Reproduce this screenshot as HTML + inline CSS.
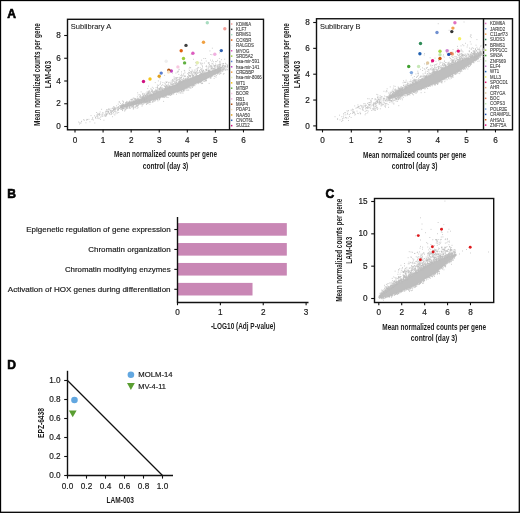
<!DOCTYPE html>
<html><head><meta charset="utf-8"><style>
html,body{margin:0;padding:0;background:#fff;}
svg{display:block;font-family:"Liberation Sans", sans-serif;will-change:transform;}
</style></head><body>
<svg width="520" height="513" viewBox="0 0 520 513">
<rect x="0" y="0" width="520" height="513" fill="#fff"/>
<text x="7.2" y="17.8" font-size="12.1" fill="#000" font-weight="bold" stroke="#000" stroke-width="0.6">A</text>
<rect x="67.5" y="19.3" width="196.0" height="110.50000000000001" fill="none" stroke="#111" stroke-width="1.4"/>
<line x1="229.5" y1="19.3" x2="229.5" y2="129.8" stroke="#111" stroke-width="1.4"/>
<line x1="64.2" y1="126.5" x2="67.5" y2="126.5" stroke="#111" stroke-width="1.1"/>
<text x="60.9" y="129.1" font-size="8.2" text-anchor="end" fill="#1a1a1a" stroke="#1a1a1a" stroke-width="0.18">0</text>
<line x1="64.2" y1="103.75" x2="67.5" y2="103.75" stroke="#111" stroke-width="1.1"/>
<text x="60.9" y="106.35" font-size="8.2" text-anchor="end" fill="#1a1a1a" stroke="#1a1a1a" stroke-width="0.18">2</text>
<line x1="64.2" y1="81.0" x2="67.5" y2="81.0" stroke="#111" stroke-width="1.1"/>
<text x="60.9" y="83.6" font-size="8.2" text-anchor="end" fill="#1a1a1a" stroke="#1a1a1a" stroke-width="0.18">4</text>
<line x1="64.2" y1="58.25" x2="67.5" y2="58.25" stroke="#111" stroke-width="1.1"/>
<text x="60.9" y="60.85" font-size="8.2" text-anchor="end" fill="#1a1a1a" stroke="#1a1a1a" stroke-width="0.18">6</text>
<line x1="64.2" y1="35.5" x2="67.5" y2="35.5" stroke="#111" stroke-width="1.1"/>
<text x="60.9" y="38.1" font-size="8.2" text-anchor="end" fill="#1a1a1a" stroke="#1a1a1a" stroke-width="0.18">8</text>
<line x1="75.0" y1="129.8" x2="75.0" y2="132.4" stroke="#111" stroke-width="1.1"/>
<text x="75.0" y="143.2" font-size="8.2" text-anchor="middle" fill="#1a1a1a" stroke="#1a1a1a" stroke-width="0.18">0</text>
<line x1="103.08" y1="129.8" x2="103.08" y2="132.4" stroke="#111" stroke-width="1.1"/>
<text x="103.08" y="143.2" font-size="8.2" text-anchor="middle" fill="#1a1a1a" stroke="#1a1a1a" stroke-width="0.18">1</text>
<line x1="131.16" y1="129.8" x2="131.16" y2="132.4" stroke="#111" stroke-width="1.1"/>
<text x="131.16" y="143.2" font-size="8.2" text-anchor="middle" fill="#1a1a1a" stroke="#1a1a1a" stroke-width="0.18">2</text>
<line x1="159.24" y1="129.8" x2="159.24" y2="132.4" stroke="#111" stroke-width="1.1"/>
<text x="159.24" y="143.2" font-size="8.2" text-anchor="middle" fill="#1a1a1a" stroke="#1a1a1a" stroke-width="0.18">3</text>
<line x1="187.32" y1="129.8" x2="187.32" y2="132.4" stroke="#111" stroke-width="1.1"/>
<text x="187.32" y="143.2" font-size="8.2" text-anchor="middle" fill="#1a1a1a" stroke="#1a1a1a" stroke-width="0.18">4</text>
<line x1="215.39999999999998" y1="129.8" x2="215.39999999999998" y2="132.4" stroke="#111" stroke-width="1.1"/>
<text x="215.4" y="143.2" font-size="8.2" text-anchor="middle" fill="#1a1a1a" stroke="#1a1a1a" stroke-width="0.18">5</text>
<line x1="243.48" y1="129.8" x2="243.48" y2="132.4" stroke="#111" stroke-width="1.1"/>
<text x="243.48" y="143.2" font-size="8.2" text-anchor="middle" fill="#1a1a1a" stroke="#1a1a1a" stroke-width="0.18">6</text>
<text x="70.8" y="29.2" font-size="7.9" fill="#1a1a1a" textLength="40.5" lengthAdjust="spacingAndGlyphs" stroke="#1a1a1a" stroke-width="0.08">Sublibrary A</text>
<text x="39.6" y="74.5" font-size="9.8" text-anchor="middle" fill="#1a1a1a" font-weight="bold" textLength="102.8" lengthAdjust="spacingAndGlyphs" transform="rotate(-90 39.6 74.5)">Mean normalized counts per gene</text>
<text x="50.7" y="74.5" font-size="9.8" text-anchor="middle" fill="#1a1a1a" font-weight="bold" textLength="27.3" lengthAdjust="spacingAndGlyphs" transform="rotate(-90 50.7 74.5)">LAM-003</text>
<text x="165.5" y="157.3" font-size="9.8" text-anchor="middle" fill="#1a1a1a" font-weight="bold" textLength="103" lengthAdjust="spacingAndGlyphs">Mean normalized counts per gene</text>
<text x="165.5" y="168.8" font-size="9.8" text-anchor="middle" fill="#1a1a1a" font-weight="bold" textLength="45.5" lengthAdjust="spacingAndGlyphs">control (day 3)</text>
<rect x="230.9" y="23.25" width="1.5" height="1.5" fill="#f2a09a"/>
<text x="236.1" y="25.75" font-size="4.9" fill="#444" textLength="14.99" lengthAdjust="spacingAndGlyphs" stroke="#444" stroke-width="0.12">KDM6A</text>
<rect x="230.9" y="28.60" width="1.5" height="1.5" fill="#404040"/>
<text x="236.1" y="31.1" font-size="4.9" fill="#444" textLength="10.4" lengthAdjust="spacingAndGlyphs" stroke="#444" stroke-width="0.12">KLF7</text>
<rect x="230.9" y="33.95" width="1.5" height="1.5" fill="#a8dcc0"/>
<text x="236.1" y="36.45" font-size="4.9" fill="#444" textLength="14.99" lengthAdjust="spacingAndGlyphs" stroke="#444" stroke-width="0.12">BRMS1</text>
<rect x="230.9" y="39.30" width="1.5" height="1.5" fill="#e06010"/>
<text x="236.1" y="41.8" font-size="4.9" fill="#444" textLength="15.23" lengthAdjust="spacingAndGlyphs" stroke="#444" stroke-width="0.12">CCKBR</text>
<rect x="230.9" y="44.65" width="1.5" height="1.5" fill="#eeeeee"/>
<text x="236.1" y="47.15" font-size="4.9" fill="#444" textLength="17.89" lengthAdjust="spacingAndGlyphs" stroke="#444" stroke-width="0.12">RALGDS</text>
<rect x="230.9" y="50.00" width="1.5" height="1.5" fill="#dd5cbf"/>
<text x="236.1" y="52.5" font-size="4.9" fill="#444" textLength="13.29" lengthAdjust="spacingAndGlyphs" stroke="#444" stroke-width="0.12">MYOG</text>
<rect x="230.9" y="55.35" width="1.5" height="1.5" fill="#9ccc3c"/>
<text x="236.1" y="57.85" font-size="4.9" fill="#444" textLength="16.92" lengthAdjust="spacingAndGlyphs" stroke="#444" stroke-width="0.12">SRD5A2</text>
<rect x="230.9" y="60.70" width="1.5" height="1.5" fill="#5a7fd0"/>
<text x="236.1" y="63.2" font-size="4.9" fill="#444" textLength="23.21" lengthAdjust="spacingAndGlyphs" stroke="#444" stroke-width="0.12">hsa-mir-591</text>
<rect x="230.9" y="66.05" width="1.5" height="1.5" fill="#c040c0"/>
<text x="236.1" y="68.55" font-size="4.9" fill="#444" textLength="23.21" lengthAdjust="spacingAndGlyphs" stroke="#444" stroke-width="0.12">hsa-mir-141</text>
<rect x="230.9" y="71.40" width="1.5" height="1.5" fill="#f0a040"/>
<text x="236.1" y="73.9" font-size="4.9" fill="#444" textLength="17.89" lengthAdjust="spacingAndGlyphs" stroke="#444" stroke-width="0.12">CREBBP</text>
<rect x="230.9" y="76.75" width="1.5" height="1.5" fill="#e4eeb0"/>
<text x="236.1" y="79.25" font-size="4.9" fill="#444" textLength="25.62" lengthAdjust="spacingAndGlyphs" stroke="#444" stroke-width="0.12">hsa-mir-8066</text>
<rect x="230.9" y="82.10" width="1.5" height="1.5" fill="#f5c518"/>
<text x="236.1" y="84.6" font-size="4.9" fill="#444" textLength="9.18" lengthAdjust="spacingAndGlyphs" stroke="#444" stroke-width="0.12">WT1</text>
<rect x="230.9" y="87.45" width="1.5" height="1.5" fill="#60b040"/>
<text x="236.1" y="89.95" font-size="4.9" fill="#444" textLength="12.08" lengthAdjust="spacingAndGlyphs" stroke="#444" stroke-width="0.12">MTBP</text>
<rect x="230.9" y="92.80" width="1.5" height="1.5" fill="#f8c8e0"/>
<text x="236.1" y="95.3" font-size="4.9" fill="#444" textLength="12.57" lengthAdjust="spacingAndGlyphs" stroke="#444" stroke-width="0.12">BCOR</text>
<rect x="230.9" y="98.15" width="1.5" height="1.5" fill="#f0b0e0"/>
<text x="236.1" y="100.65" font-size="4.9" fill="#444" textLength="8.46" lengthAdjust="spacingAndGlyphs" stroke="#444" stroke-width="0.12">RB1</text>
<rect x="230.9" y="103.50" width="1.5" height="1.5" fill="#b05010"/>
<text x="236.1" y="106.0" font-size="4.9" fill="#444" textLength="11.85" lengthAdjust="spacingAndGlyphs" stroke="#444" stroke-width="0.12">MAP4</text>
<rect x="230.9" y="108.85" width="1.5" height="1.5" fill="#f8e0c0"/>
<text x="236.1" y="111.35" font-size="4.9" fill="#444" textLength="14.27" lengthAdjust="spacingAndGlyphs" stroke="#444" stroke-width="0.12">PDAP1</text>
<rect x="230.9" y="114.20" width="1.5" height="1.5" fill="#e0a020"/>
<text x="236.1" y="116.7" font-size="4.9" fill="#444" textLength="13.78" lengthAdjust="spacingAndGlyphs" stroke="#444" stroke-width="0.12">NAA50</text>
<rect x="230.9" y="119.55" width="1.5" height="1.5" fill="#2f60b0"/>
<text x="236.1" y="122.05" font-size="4.9" fill="#444" textLength="17.16" lengthAdjust="spacingAndGlyphs" stroke="#444" stroke-width="0.12">CNOT6L</text>
<rect x="230.9" y="124.90" width="1.5" height="1.5" fill="#d01080"/>
<text x="236.1" y="127.4" font-size="4.9" fill="#444" textLength="13.54" lengthAdjust="spacingAndGlyphs" stroke="#444" stroke-width="0.12">SUZ12</text>
<polygon points="120,107.3 131,103.6 140,100 154.4,93.3 168.8,87.3 183.3,81 190,78 205.4,72.5 216.9,69.3 221.5,68.6 221.5,70.5 216.9,73.5 205.4,79.8 190,86.5 183.3,90 168.8,95 154.4,100 140,103.8 131,105.8 120,107.8" fill="#bebebe"/>
<path d="M133.0 103.0h0.85M170.7 82.6h0.85M181.1 79.1h0.85M122.9 106.4h0.85M135.0 101.6h0.85M214.2 65.8h0.85M127.1 105.0h0.85M133.2 102.9h0.85M216.3 61.6h0.85M183.1 80.3h0.85M157.5 91.6h0.85M171.9 79.9h0.85M187.3 77.3h0.85M147.9 96.1h0.85M134.0 102.3h0.85M200.0 69.6h0.85M188.0 74.1h0.85M172.0 73.1h0.85M202.9 70.8h0.85M175.7 78.9h0.85M219.6 63.2h0.85M140.8 99.3h0.85M176.2 77.6h0.85M169.1 87.5h0.85M155.9 91.5h0.85M180.0 77.9h0.85M143.9 98.0h0.85M201.4 69.8h0.85M208.0 67.0h0.85M133.1 102.1h0.85M167.4 85.3h0.85M148.1 95.9h0.85M128.4 102.3h0.85M210.9 68.8h0.85M163.6 88.8h0.85M135.0 98.9h0.85M188.3 78.0h0.85M140.5 99.0h0.85M211.5 54.7h0.85M142.0 96.9h0.85M123.4 104.3h0.85M140.4 100.0h0.85M155.1 89.8h0.85M167.6 85.0h0.85M212.0 68.0h0.85M190.8 54.4h0.85M154.4 92.3h0.85M121.7 106.9h0.85M136.2 101.7h0.85M221.1 59.7h0.85M166.7 81.9h0.85M190.1 76.0h0.85M125.5 105.0h0.85M123.5 106.2h0.85M205.9 72.1h0.85M179.7 82.6h0.85M151.3 90.5h0.85M152.2 94.4h0.85M129.1 103.6h0.85M137.5 101.0h0.85M122.5 106.7h0.85M205.2 58.5h0.85M167.3 87.8h0.85M132.9 102.9h0.85M195.0 73.4h0.85M139.9 100.3h0.85M126.3 105.1h0.85M180.7 81.3h0.85M210.9 68.1h0.85M122.7 105.9h0.85M201.7 65.3h0.85M139.3 99.4h0.85M129.4 102.9h0.85M121.8 106.4h0.85M149.7 92.6h0.85M193.8 74.2h0.85M170.1 83.2h0.85M206.6 68.2h0.85M142.0 97.4h0.85M152.0 90.3h0.85M146.2 94.0h0.85M219.3 52.8h0.85M215.5 69.5h0.85M154.6 91.4h0.85M164.3 86.7h0.85M151.9 91.5h0.85M195.8 68.9h0.85M124.1 106.1h0.85M126.8 103.2h0.85M161.0 85.7h0.85M144.9 96.5h0.85M205.8 61.0h0.85M195.3 62.7h0.85M175.4 81.1h0.85M187.1 76.5h0.85M190.3 67.8h0.85M199.3 71.3h0.85M214.1 66.1h0.85M135.2 100.4h0.85M183.6 79.4h0.85M134.6 101.5h0.85M165.0 87.9h0.85M199.8 72.0h0.85M210.8 68.6h0.85M197.1 70.1h0.85M123.6 105.9h0.85M156.5 91.1h0.85M136.6 101.5h0.85M221.4 67.6h0.85M134.6 102.4h0.85M144.8 97.7h0.85M156.3 92.0h0.85M126.2 105.2h0.85M208.3 71.0h0.85M184.6 76.3h0.85M136.2 101.2h0.85M170.6 85.0h0.85M128.0 104.2h0.85M182.0 81.5h0.85M143.5 98.4h0.85M123.9 105.8h0.85M131.7 102.6h0.85M176.4 80.9h0.85M184.7 76.6h0.85M153.0 88.3h0.85M185.3 79.6h0.85M155.7 92.9h0.85M133.3 98.1h0.85M152.0 90.1h0.85M160.1 91.0h0.85M212.6 68.8h0.85M131.7 103.4h0.85M128.7 102.7h0.85M177.0 77.7h0.85M217.8 68.0h0.85M212.1 60.2h0.85M191.1 71.8h0.85M126.8 104.0h0.85M201.8 71.1h0.85M189.4 76.1h0.85M134.6 102.2h0.85M167.2 87.0h0.85M125.0 105.2h0.85M201.4 70.9h0.85M192.9 75.9h0.85M201.7 72.0h0.85M197.2 75.5h0.85M147.1 95.6h0.85M200.2 63.8h0.85M145.3 95.4h0.85M134.0 101.4h0.85M159.6 89.8h0.85M170.5 84.3h0.85M149.0 95.5h0.85M181.5 76.3h0.85M181.2 81.6h0.85M144.3 94.0h0.85M183.2 78.7h0.85M156.3 90.3h0.85M194.6 76.3h0.85M149.5 94.5h0.85M201.1 73.4h0.85M162.1 89.4h0.85M176.2 80.0h0.85M188.3 76.1h0.85M172.6 81.0h0.85M146.1 97.4h0.85M219.4 61.8h0.85M129.7 103.1h0.85M153.0 93.4h0.85M175.7 81.7h0.85M122.9 105.9h0.85M135.7 100.3h0.85M201.1 73.6h0.85M199.6 72.3h0.85M184.7 78.4h0.85M211.5 71.0h0.85M196.7 72.2h0.85M150.3 88.9h0.85M185.5 79.1h0.85M154.5 91.1h0.85M196.1 71.8h0.85M159.1 88.8h0.85M135.6 100.1h0.85M209.0 66.9h0.85M190.1 76.1h0.85M195.6 73.9h0.85M176.8 72.1h0.85M199.5 72.3h0.85M165.5 88.8h0.85M177.4 79.7h0.85M126.4 105.0h0.85M176.3 82.8h0.85M202.7 69.9h0.85M191.6 70.0h0.85M201.5 73.9h0.85M170.4 86.6h0.85M209.5 50.9h0.85M131.0 102.3h0.85M208.9 63.0h0.85M157.7 90.0h0.85M129.2 104.0h0.85M182.9 78.2h0.85M166.2 85.7h0.85M163.5 85.3h0.85M206.5 70.5h0.85M134.0 102.3h0.85M182.6 75.9h0.85M162.0 84.8h0.85M173.6 76.9h0.85M170.7 81.1h0.85M133.6 100.5h0.85M172.0 82.2h0.85M207.5 71.6h0.85M137.4 99.5h0.85M121.2 107.1h0.85M126.9 102.8h0.85M166.7 88.3h0.85M218.9 58.5h0.85M124.5 105.9h0.85M220.6 67.5h0.85M174.4 79.7h0.85M132.2 103.2h0.85M162.5 88.7h0.85M141.0 99.6h0.85M192.5 76.0h0.85M175.0 83.1h0.85M149.2 95.9h0.85M145.9 96.8h0.85M208.0 71.9h0.85M197.8 73.0h0.85M164.3 83.1h0.85M161.2 88.7h0.85M194.9 75.1h0.85M218.5 68.8h0.85M128.1 104.7h0.85M136.1 101.4h0.85M156.8 87.4h0.85M171.5 85.9h0.85M127.2 104.1h0.85M125.4 105.1h0.85M142.3 98.4h0.85M159.2 89.8h0.85M195.0 72.2h0.85M181.9 81.7h0.85M123.0 106.3h0.85M124.6 106.0h0.85M165.9 87.9h0.85M208.8 70.8h0.85M212.9 64.9h0.85M157.1 86.3h0.85M210.1 60.1h0.85M214.3 68.5h0.85M161.3 89.6h0.85M195.7 62.2h0.85M157.1 92.0h0.85M135.6 99.5h0.85M178.4 74.4h0.85M128.8 103.3h0.85M187.3 73.6h0.85M202.1 66.4h0.85M212.9 70.2h0.85M165.5 84.9h0.85M131.9 101.7h0.85M211.6 63.6h0.85M208.3 71.2h0.85M218.2 68.5h0.85M180.3 78.0h0.85M188.4 75.8h0.85M157.9 80.9h0.85M138.6 100.3h0.85M149.6 92.4h0.85M193.1 59.3h0.85M153.0 94.2h0.85M190.2 76.0h0.85M171.0 84.0h0.85M165.6 86.1h0.85M218.2 68.3h0.85M136.9 96.8h0.85M169.4 86.8h0.85M136.2 99.3h0.85M215.2 61.6h0.85M169.6 86.1h0.85M153.7 92.4h0.85M137.1 101.2h0.85M180.3 79.9h0.85M160.5 87.5h0.85M132.9 102.9h0.85M123.3 106.4h0.85M159.7 88.4h0.85M179.2 81.2h0.85M172.7 84.5h0.85M211.4 67.7h0.85M212.5 70.2h0.85M215.0 64.0h0.85M201.2 60.2h0.85M168.5 86.6h0.85M173.2 80.9h0.85M160.3 81.9h0.85M160.6 90.8h0.85M124.2 105.8h0.85M201.1 74.3h0.85M145.0 95.9h0.85M123.0 105.2h0.85M167.3 87.2h0.85M192.9 75.8h0.85M164.3 88.6h0.85M157.0 87.6h0.85M186.8 78.5h0.85M136.5 100.9h0.85M121.2 106.7h0.85M180.1 80.8h0.85M173.8 81.3h0.85M207.9 70.1h0.85M162.2 87.9h0.85M199.8 73.4h0.85M121.8 105.6h0.85M122.8 106.1h0.85M180.8 77.5h0.85M143.0 97.8h0.85M126.8 103.8h0.85M133.0 101.6h0.85M158.0 92.1h0.85M154.2 91.3h0.85M177.2 83.8h0.85M210.1 66.1h0.85M157.1 88.8h0.85M138.7 99.5h0.85M178.7 81.8h0.85M120.2 107.2h0.85M159.1 88.7h0.85M152.2 92.5h0.85M159.3 91.3h0.85M125.2 105.6h0.85M176.3 83.1h0.85M183.4 73.7h0.85M196.1 74.8h0.85M217.2 67.8h0.85M156.0 92.7h0.85M186.6 78.1h0.85M164.9 88.8h0.85M141.8 98.4h0.85M210.3 54.5h0.85M195.7 73.9h0.85M215.7 69.6h0.85M203.4 58.5h0.85M213.1 61.8h0.85M133.0 102.8h0.85M121.6 106.0h0.85M140.2 99.5h0.85M161.8 90.0h0.85M189.8 77.1h0.85M164.5 89.4h0.85M172.1 79.8h0.85M197.2 68.6h0.85M127.2 104.7h0.85M188.8 75.4h0.85M124.9 105.6h0.85M145.2 97.6h0.85M193.3 72.7h0.85M189.3 73.0h0.85M161.1 88.1h0.85M149.9 95.2h0.85M204.1 63.0h0.85M147.9 93.0h0.85M123.2 106.2h0.85M145.1 95.6h0.85M122.2 105.4h0.85M202.3 63.3h0.85M132.4 103.0h0.85M218.9 66.6h0.85M141.6 99.3h0.85M151.1 91.7h0.85M179.4 81.3h0.85M151.3 94.7h0.85M158.5 91.3h0.85M130.6 102.0h0.85M159.5 91.4h0.85M122.6 105.3h0.85M142.7 98.0h0.85M212.3 70.0h0.85M148.5 93.0h0.85M147.5 96.8h0.85M188.9 70.6h0.85M209.6 69.4h0.85M150.0 95.3h0.85M158.2 85.4h0.85M192.5 74.0h0.85M200.4 62.8h0.85M182.3 80.2h0.85M138.2 100.3h0.85M138.3 100.8h0.85M196.9 70.8h0.85M191.7 74.8h0.85M211.0 68.9h0.85M199.1 70.5h0.85M162.8 88.7h0.85M133.5 102.4h0.85M210.4 71.2h0.85M190.6 72.0h0.85M178.5 82.4h0.85M189.2 75.5h0.85M159.1 90.9h0.85M154.8 82.6h0.85M178.4 79.5h0.85M169.0 87.1h0.85M192.0 74.1h0.85M215.0 65.4h0.85M206.0 70.0h0.85M159.3 89.5h0.85M157.8 88.4h0.85M214.1 66.0h0.85M160.1 83.2h0.85M201.2 74.0h0.85M129.4 104.2h0.85M165.8 87.3h0.85M172.4 85.6h0.85M202.1 72.4h0.85M209.1 71.6h0.85M135.5 101.6h0.85M182.6 80.5h0.85M183.9 70.4h0.85M135.4 101.8h0.85M204.6 71.3h0.85M176.2 82.6h0.85M217.6 66.3h0.85M138.9 99.1h0.85M173.3 79.1h0.85M152.8 93.5h0.85M185.2 79.5h0.85M181.7 79.5h0.85M172.0 84.1h0.85M153.0 92.9h0.85M171.2 86.4h0.85M157.8 92.0h0.85M210.4 65.7h0.85M166.8 86.6h0.85M168.2 87.3h0.85M146.2 94.8h0.85M145.8 94.6h0.85M216.8 65.6h0.85M151.9 87.3h0.85M208.1 68.2h0.85M180.4 75.6h0.85M219.5 62.9h0.85M136.7 101.6h0.85M215.6 67.1h0.85M198.4 62.6h0.85M177.7 83.3h0.85M191.9 77.2h0.85M193.3 75.8h0.85M165.5 86.6h0.85M184.4 80.2h0.85M143.2 95.8h0.85M122.2 106.9h0.85M188.7 68.9h0.85M168.2 84.1h0.85M211.9 48.2h0.85M146.8 96.3h0.85M203.0 71.0h0.85M220.1 67.3h0.85M211.2 66.5h0.85M217.9 67.1h0.85M136.1 101.1h0.85M136.8 98.4h0.85M143.2 98.3h0.85M156.7 90.0h0.85M131.7 103.4h0.85M135.3 101.2h0.85M121.9 105.1h0.85M214.7 68.1h0.85M156.6 90.0h0.85M183.5 80.5h0.85M166.1 82.5h0.85M195.4 70.1h0.85M201.8 73.4h0.85M158.9 89.1h0.85M174.3 82.3h0.85M129.9 103.3h0.85M149.0 96.0h0.85M142.6 99.0h0.85M151.3 94.8h0.85M152.9 93.7h0.85M178.4 82.1h0.85M153.8 93.6h0.85M153.2 91.4h0.85M204.4 72.1h0.85M121.2 107.2h0.85M120.5 107.3h0.85M125.8 104.9h0.85M207.9 63.6h0.85M184.3 71.0h0.85M193.9 70.1h0.85M217.2 60.3h0.85M142.1 96.8h0.85M213.4 69.6h0.85M144.6 97.5h0.85M172.7 85.2h0.85M189.1 72.6h0.85M200.9 70.3h0.85M145.2 95.5h0.85M168.4 82.7h0.85M124.6 105.8h0.85M149.2 95.2h0.85M219.6 68.5h0.85M211.9 70.8h0.85M179.1 81.0h0.85M199.8 67.8h0.85M211.6 66.9h0.85M153.7 93.9h0.85M219.5 65.5h0.85M165.5 87.5h0.85M136.1 100.4h0.85M173.8 83.6h0.85M180.3 81.5h0.85M190.3 71.7h0.85M188.1 77.5h0.85M124.2 105.5h0.85M184.9 80.3h0.85M213.5 68.3h0.85M188.0 72.4h0.85M219.0 67.7h0.85M171.9 81.0h0.85M202.2 71.4h0.85M134.2 101.9h0.85M210.9 65.3h0.85M164.3 89.4h0.85M209.0 64.5h0.85M152.6 94.0h0.85M183.4 80.5h0.85M205.9 70.0h0.85M192.2 71.1h0.85M182.9 74.9h0.85M218.5 64.7h0.85M128.9 102.3h0.85M130.4 103.4h0.85M176.0 78.4h0.85M216.9 66.7h0.85M189.7 67.5h0.85M151.4 91.6h0.85M130.9 103.8h0.85M165.5 88.2h0.85M168.7 87.2h0.85M167.5 88.1h0.85M182.9 81.0h0.85M147.7 94.1h0.85M209.4 71.5h0.85M149.3 90.7h0.85M130.9 101.9h0.85M155.4 92.1h0.85M215.0 65.8h0.85M136.2 101.8h0.85M148.2 92.2h0.85M214.0 69.1h0.85M155.3 92.0h0.85M205.6 66.4h0.85M124.6 105.4h0.85M210.2 67.0h0.85M144.1 97.0h0.85M138.3 100.0h0.85M195.3 65.4h0.85M220.4 68.0h0.85M217.4 67.1h0.85M196.4 75.6h0.85M212.8 66.0h0.85M220.2 69.1h0.85M176.1 84.3h0.85M134.7 99.8h0.85M206.2 69.6h0.85M160.2 87.0h0.85M151.7 91.8h0.85M170.8 84.3h0.85M123.5 106.0h0.85M121.9 106.5h0.85M146.8 92.7h0.85M180.5 81.1h0.85M196.1 74.7h0.85M217.2 68.4h0.85M203.0 70.7h0.85M215.5 66.1h0.85M184.6 75.8h0.85M194.5 73.2h0.85M179.6 82.6h0.85M128.3 103.2h0.85M126.3 101.4h0.85M197.2 70.1h0.85M140.5 98.1h0.85M200.2 73.1h0.85M167.1 86.9h0.85M120.7 107.3h0.85M177.0 83.6h0.85M165.0 86.6h0.85M127.5 104.5h0.85M146.5 97.3h0.85M151.1 94.8h0.85M155.1 91.0h0.85M191.7 75.2h0.85M137.0 101.0h0.85M165.0 84.0h0.85M181.6 81.1h0.85M216.1 69.5h0.85M131.7 103.4h0.85M128.1 104.5h0.85M139.5 100.2h0.85M142.4 97.2h0.85M136.5 101.0h0.85M127.7 103.7h0.85M141.3 99.0h0.85M142.7 98.9h0.85M168.7 86.2h0.85M185.7 80.2h0.85M156.9 92.1h0.85M137.1 99.7h0.85M129.6 103.2h0.85M146.7 96.4h0.85M137.3 101.2h0.85M168.8 86.3h0.85M208.4 71.1h0.85M192.7 72.1h0.85M140.6 100.0h0.85M123.6 105.4h0.85M126.9 105.2h0.85M164.2 75.4h0.85M156.9 85.0h0.85M189.3 67.3h0.85M128.5 103.7h0.85M145.8 95.5h0.85M189.6 75.5h0.85M177.7 71.0h0.85M172.4 83.9h0.85M211.5 61.7h0.85M131.5 99.7h0.85M139.8 97.9h0.85M177.4 83.3h0.85M177.4 72.0h0.85M219.5 61.3h0.85M219.2 66.8h0.85M179.6 78.6h0.85M197.0 73.6h0.85M190.8 73.9h0.85M133.5 101.4h0.85M181.1 71.9h0.85M151.0 89.2h0.85M156.4 92.2h0.85M135.9 101.1h0.85M120.8 105.9h0.85M206.6 69.9h0.85M192.8 76.2h0.85M196.3 65.0h0.85M149.2 94.6h0.85M162.4 89.8h0.85M137.9 100.6h0.85M181.1 77.6h0.85M205.2 69.9h0.85M199.1 74.6h0.85M214.8 69.5h0.85M146.4 97.3h0.85M191.2 72.6h0.85M132.9 101.7h0.85M174.4 78.3h0.85M131.2 103.5h0.85M174.8 77.6h0.85M175.0 83.8h0.85M155.2 93.1h0.85M155.5 90.5h0.85M192.2 76.0h0.85M168.8 85.6h0.85M161.4 89.9h0.85M131.4 102.8h0.85M148.7 96.2h0.85M206.0 65.9h0.85M218.7 67.2h0.85M157.9 91.5h0.85M208.4 71.1h0.85M208.7 65.7h0.85M142.1 93.8h0.85M147.8 94.0h0.85M190.6 73.6h0.85M151.1 94.1h0.85M217.0 69.0h0.85M157.1 92.0h0.85M194.1 72.7h0.85M191.8 75.9h0.85M141.7 98.3h0.85M207.9 62.5h0.85M153.4 92.7h0.85M131.2 99.3h0.85M125.1 105.5h0.85M165.9 82.5h0.85M184.2 76.2h0.85M147.5 92.8h0.85M205.5 69.6h0.85M147.2 95.4h0.85M206.0 70.1h0.85M123.4 105.0h0.85M146.7 91.4h0.85M136.2 101.3h0.85M165.4 87.2h0.85M155.6 87.7h0.85M160.1 87.8h0.85M206.4 66.7h0.85M178.8 69.3h0.85M181.5 75.4h0.85M159.6 88.6h0.85M202.0 68.0h0.85M170.9 86.5h0.85M195.7 72.9h0.85M212.8 68.5h0.85M182.1 81.1h0.85M164.2 86.1h0.85M146.8 94.0h0.85M212.6 68.8h0.85M197.6 72.4h0.85M201.2 68.8h0.85M142.5 98.0h0.85M164.3 88.7h0.85M209.7 71.4h0.85M145.0 95.8h0.85M202.6 73.6h0.85M174.7 82.4h0.85M142.2 94.8h0.85M158.1 90.1h0.85M127.7 103.5h0.85M188.3 74.2h0.85M193.8 71.7h0.85M122.9 106.6h0.85M150.6 94.9h0.85M198.0 67.7h0.85M140.3 99.7h0.85M174.5 83.8h0.85M201.8 72.0h0.85M177.9 82.0h0.85M132.4 102.3h0.85M212.3 70.9h0.85M195.8 75.7h0.85M177.3 80.1h0.85M153.8 93.4h0.85M179.1 79.0h0.85M159.7 87.7h0.85M132.0 103.1h0.85M132.4 102.3h0.85M124.6 105.5h0.85M137.3 101.1h0.85M144.9 96.4h0.85M184.5 72.8h0.85M178.9 79.6h0.85M179.9 80.8h0.85M203.4 72.9h0.85M129.7 104.3h0.85M159.5 78.7h0.85M128.0 104.4h0.85M162.5 82.6h0.85M128.0 103.9h0.85M126.7 105.3h0.85M130.6 102.9h0.85M159.6 84.4h0.85M197.5 67.4h0.85M148.6 91.5h0.85M195.3 72.4h0.85M143.7 94.0h0.85M149.2 95.9h0.85M167.8 87.3h0.85M127.6 103.9h0.85M165.6 81.8h0.85M179.2 77.3h0.85M203.7 72.4h0.85M125.7 105.4h0.85M201.2 64.0h0.85M177.8 71.6h0.85M178.7 80.9h0.85M125.2 104.9h0.85M209.3 70.7h0.85M148.1 86.1h0.85M175.5 73.1h0.85M174.7 79.0h0.85M212.4 63.7h0.85M181.0 74.2h0.85M220.6 67.6h0.85M143.6 98.6h0.85M187.2 79.2h0.85M178.5 69.8h0.85M172.1 84.7h0.85M183.7 80.8h0.85M175.9 80.2h0.85M154.2 93.7h0.85M185.1 79.0h0.85M128.5 103.5h0.85M168.6 82.3h0.85M166.0 86.3h0.85M141.6 99.4h0.85M177.7 77.8h0.85M188.0 78.2h0.85M132.7 102.1h0.85M150.1 94.0h0.85M126.3 104.2h0.85M180.6 82.1h0.85M128.3 104.6h0.85M143.3 96.5h0.85M165.5 89.0h0.85M165.9 85.4h0.85M206.1 80.6h0.85M141.4 103.4h0.85M180.3 93.2h0.85M127.4 106.3h0.85M142.8 104.2h0.85M124.6 106.8h0.85M183.8 90.8h0.85M210.9 76.6h0.85M181.0 91.2h0.85M181.2 91.3h0.85M211.7 76.2h0.85M153.5 101.0h0.85M176.5 92.3h0.85M202.2 83.3h0.85M139.7 103.9h0.85M191.4 86.2h0.85M127.8 106.9h0.85M157.5 100.9h0.85M138.8 103.9h0.85M163.9 97.2h0.85M140.7 103.8h0.85M126.2 106.5h0.85M165.1 96.5h0.85M159.6 98.4h0.85M194.5 85.7h0.85M121.4 108.7h0.85M184.5 89.3h0.85M124.5 110.3h0.85M169.3 94.6h0.85M122.1 107.7h0.85M212.5 75.9h0.85M169.5 95.0h0.85M168.4 95.5h0.85M127.2 106.9h0.85M199.9 82.2h0.85M147.0 101.7h0.85M167.7 97.5h0.85M193.3 85.4h0.85M200.3 82.1h0.85M159.2 99.5h0.85M126.2 106.9h0.85M220.1 72.3h0.85M145.9 102.1h0.85M124.3 106.8h0.85M182.9 90.4h0.85M208.7 83.4h0.85M128.9 107.8h0.85M124.6 109.3h0.85M188.7 87.3h0.85M178.1 91.5h0.85M146.3 102.1h0.85M146.9 102.1h0.85M197.9 83.6h0.85M122.1 107.2h0.85M144.4 102.3h0.85M156.8 99.1h0.85M198.6 82.8h0.85M151.9 101.8h0.85M125.5 106.5h0.85M195.5 84.4h0.85M189.9 87.8h0.85M132.9 108.7h0.85M193.9 84.6h0.85M183.3 89.9h0.85M157.3 99.8h0.85M178.7 92.1h0.85M171.0 94.3h0.85M200.5 81.6h0.85M216.6 73.6h0.85M154.6 99.7h0.85M129.2 106.2h0.85M157.0 99.5h0.85M180.8 90.9h0.85M146.0 104.5h0.85M135.7 105.6h0.85M141.5 103.4h0.85M206.1 80.7h0.85M192.5 86.1h0.85M132.7 105.9h0.85M150.4 102.4h0.85M147.5 101.7h0.85M131.4 106.9h0.85M205.2 80.6h0.85M149.3 101.6h0.85M177.3 92.4h0.85M158.8 99.9h0.85M127.1 106.6h0.85M123.7 108.3h0.85M190.5 88.3h0.85M183.7 89.7h0.85M170.0 95.3h0.85M138.0 105.3h0.85M154.6 100.0h0.85M171.5 94.6h0.85M141.9 104.9h0.85M178.5 93.0h0.85M205.2 80.9h0.85M138.0 104.1h0.85M214.5 76.4h0.85M171.5 94.1h0.85M219.2 72.4h0.85M218.2 72.7h0.85M126.5 107.2h0.85M189.2 87.9h0.85M144.7 102.5h0.85M183.0 90.5h0.85M210.3 78.4h0.85M166.5 97.5h0.85M186.3 88.3h0.85M187.8 87.7h0.85M139.1 104.0h0.85M163.2 96.7h0.85M149.5 102.1h0.85M169.0 94.7h0.85M197.4 83.3h0.85M134.7 107.8h0.85M176.1 94.2h0.85M171.2 94.0h0.85M159.1 98.4h0.85M205.4 79.8h0.85M155.6 99.3h0.85M201.2 83.6h0.85M127.2 108.4h0.85M164.6 97.0h0.85M131.1 105.7h0.85M205.9 79.2h0.85M187.4 90.2h0.85M141.6 104.5h0.85M157.8 98.9h0.85M132.9 109.0h0.85M209.8 77.5h0.85M210.6 77.8h0.85M210.6 76.8h0.85M181.5 92.8h0.85M146.8 103.3h0.85M166.3 96.6h0.85M187.5 87.8h0.85M163.2 101.4h0.85M125.9 106.9h0.85M173.3 94.0h0.85M128.9 106.3h0.85M143.9 103.2h0.85M202.9 81.3h0.85M182.3 91.4h0.85M200.9 81.6h0.85M188.9 86.8h0.85M186.8 88.7h0.85M145.1 102.3h0.85M191.9 87.4h0.85M132.8 107.1h0.85M121.8 107.9h0.85M154.4 101.2h0.85M135.9 105.3h0.85M190.5 87.1h0.85M149.0 101.3h0.85M123.5 107.0h0.85M198.7 82.6h0.85M214.9 74.8h0.85M192.2 87.1h0.85M217.0 73.9h0.85M199.5 82.1h0.85M214.3 76.1h0.85M188.3 90.0h0.85M199.7 82.1h0.85M200.7 83.1h0.85M131.8 105.4h0.85M152.5 101.9h0.85M182.6 93.1h0.85M152.6 101.2h0.85M208.6 78.0h0.85M125.5 108.8h0.85M133.0 105.6h0.85M153.3 100.5h0.85M154.8 100.6h0.85M204.5 80.8h0.85M121.5 107.9h0.85M204.0 81.4h0.85M218.7 73.5h0.85M125.0 107.4h0.85M216.6 73.5h0.85M185.6 88.9h0.85M180.0 83.3h0.85M192.8 85.2h0.85M151.4 94.0h0.85M143.8 99.9h0.85M149.3 95.5h0.85M200.4 74.4h0.85M218.3 68.5h0.85M152.3 102.0h0.85M186.4 79.2h0.85M179.0 91.1h0.85M209.4 72.2h0.85M121.5 107.8h0.85M183.1 91.1h0.85M208.3 71.8h0.85M217.9 67.8h0.85M162.3 97.4h0.85M168.9 87.1h0.85M205.2 80.1h0.85M214.9 69.9h0.85M144.0 98.6h0.85M210.1 72.0h0.85M132.2 106.8h0.85M125.2 104.1h0.85M123.3 107.0h0.85M127.6 104.7h0.85M129.8 102.6h0.85M143.8 98.0h0.85M149.2 100.1h0.85M218.4 73.1h0.85M201.4 81.7h0.85M130.5 106.1h0.85M139.6 99.8h0.85M190.4 86.1h0.85M181.0 82.1h0.85M165.3 88.0h0.85M163.2 97.2h0.85M195.7 77.1h0.85M169.9 87.7h0.85M193.0 85.9h0.85M121.2 105.5h0.85M130.2 105.6h0.85M138.8 100.3h0.85M180.1 92.1h0.85M179.1 83.1h0.85M208.2 70.4h0.85M210.0 77.2h0.85M202.0 83.3h0.85M153.6 94.8h0.85M126.0 105.8h0.85M209.8 71.0h0.85M214.5 69.6h0.85M122.5 108.9h0.85M120.4 107.5h0.85M138.0 104.5h0.85M156.6 90.6h0.85M191.6 85.6h0.85M166.3 95.1h0.85M187.1 78.9h0.85M202.6 79.7h0.85M137.9 101.2h0.85M151.5 99.7h0.85M218.5 72.4h0.85M174.9 91.6h0.85M170.0 86.3h0.85M175.9 84.9h0.85M175.6 83.5h0.85M193.6 85.5h0.85M208.3 70.2h0.85M183.4 90.3h0.85M184.1 80.1h0.85M178.7 82.8h0.85M144.3 97.0h0.85M197.6 75.5h0.85M140.1 99.9h0.85M146.1 96.6h0.85M154.5 94.3h0.85M173.3 93.7h0.85M203.0 73.0h0.85M156.2 91.2h0.85M181.2 90.3h0.85M164.2 97.0h0.85M165.3 87.6h0.85M218.1 69.0h0.85M185.8 90.2h0.85M121.8 106.4h0.85M207.7 73.5h0.85M170.9 94.2h0.85M217.8 68.7h0.85M132.6 106.1h0.85M217.4 73.0h0.85M186.5 79.2h0.85M183.1 80.7h0.85M170.5 95.2h0.85M218.2 70.4h0.85M204.9 72.9h0.85M173.2 83.5h0.85M158.1 92.5h0.85M159.4 89.4h0.85M168.5 94.3h0.85M138.2 102.2h0.85M143.7 97.7h0.85M187.2 81.3h0.85M198.3 82.3h0.85M212.0 71.6h0.85M136.1 106.2h0.85M151.4 95.9h0.85M138.8 99.7h0.85M183.6 81.1h0.85M150.6 94.6h0.85M152.5 96.2h0.85M126.8 107.2h0.85M198.5 75.9h0.85M214.6 74.4h0.85M133.8 102.6h0.85M169.7 87.2h0.85M199.7 74.8h0.85M208.2 72.2h0.85M155.7 92.1h0.85M126.1 107.4h0.85M197.8 82.4h0.85M192.0 85.7h0.85M160.2 93.4h0.85M219.8 68.1h0.85M192.7 85.0h0.85M177.9 83.2h0.85M179.9 82.0h0.85M128.1 103.7h0.85M217.4 73.1h0.85M220.5 70.6h0.85M136.7 101.4h0.85M198.0 82.0h0.85M178.8 82.2h0.85M160.0 90.0h0.85M179.9 82.3h0.85M132.3 103.5h0.85M155.6 99.7h0.85M153.8 92.2h0.85M189.2 76.2h0.85M173.6 84.9h0.85M122.7 108.4h0.85M149.3 102.2h0.85M159.0 98.7h0.85M156.9 99.5h0.85M199.9 74.5h0.85M204.1 79.6h0.85M216.6 74.0h0.85M215.5 69.0h0.85M169.6 86.4h0.85M176.7 85.7h0.85M122.7 104.7h0.85M100.0 119.4h0.85M125.1 102.6h0.85M117.8 104.2h0.85M141.7 99.1h0.85M122.0 103.8h0.85M149.5 95.9h0.85M122.2 106.8h0.85M98.6 114.7h0.85M140.5 103.0h0.85M130.3 104.8h0.85M121.7 108.3h0.85M143.2 101.1h0.85M106.2 111.6h0.85M125.9 102.6h0.85M136.7 108.3h0.85M146.8 96.0h0.85M122.5 107.3h0.85M141.6 99.4h0.85M104.4 114.9h0.85M118.3 112.5h0.85M106.2 114.3h0.85M121.1 109.5h0.85M137.6 107.6h0.85M128.7 108.3h0.85M149.1 100.6h0.85M130.5 103.3h0.85M105.2 111.3h0.85M111.6 113.6h0.85M145.7 99.1h0.85M90.6 115.6h0.85M119.8 106.0h0.85M140.3 96.9h0.85M139.6 102.2h0.85M140.2 95.2h0.85M102.4 114.3h0.85M137.7 94.9h0.85M143.9 101.0h0.85M135.7 106.6h0.85M118.0 109.4h0.85M122.2 108.7h0.85M118.4 108.3h0.85M107.6 113.7h0.85M110.8 111.3h0.85M141.4 100.0h0.85M140.3 101.4h0.85M136.9 103.2h0.85M128.1 104.3h0.85M124.5 104.6h0.85M99.7 112.0h0.85M145.5 100.0h0.85M117.4 107.4h0.85M125.8 105.1h0.85M137.3 92.8h0.85M137.5 101.7h0.85M141.6 106.1h0.85M112.0 110.9h0.85M95.1 117.1h0.85M102.6 113.1h0.85M129.7 105.6h0.85M123.3 105.1h0.85M111.9 108.4h0.85M148.1 102.8h0.85M138.4 101.8h0.85M143.4 100.4h0.85M127.8 104.2h0.85M120.1 109.2h0.85M149.7 96.1h0.85M87.1 119.6h0.85M86.5 119.4h0.85M131.9 104.3h0.85M147.3 88.6h0.85M111.1 114.3h0.85M80.4 123.3h0.85M105.3 114.1h0.85M139.2 94.8h0.85M111.6 111.0h0.85M139.5 102.1h0.85M83.2 119.7h0.85M132.6 102.3h0.85M134.2 102.3h0.85M145.9 96.2h0.85M147.9 93.7h0.85M143.3 98.8h0.85M148.0 92.0h0.85M127.3 104.7h0.85M102.4 112.6h0.85M106.3 109.5h0.85M96.3 116.3h0.85M143.2 101.9h0.85M119.9 106.9h0.85M105.4 115.5h0.85M145.7 99.0h0.85M115.6 109.0h0.85M96.6 114.8h0.85M137.1 105.6h0.85M133.5 105.2h0.85M114.6 111.7h0.85M95.1 117.7h0.85M107.9 111.5h0.85M117.1 108.3h0.85M139.4 96.6h0.85M98.5 118.0h0.85M123.1 102.4h0.85M118.3 108.8h0.85M113.4 108.2h0.85M125.3 105.3h0.85M144.5 95.4h0.85M143.5 98.8h0.85M123.8 104.3h0.85M149.5 104.2h0.85M115.5 113.7h0.85M131.5 103.6h0.85M147.7 99.5h0.85M142.9 97.7h0.85M125.2 104.9h0.85M114.5 107.9h0.85M130.2 99.8h0.85M104.9 112.8h0.85M134.8 99.1h0.85M99.5 114.2h0.85M137.1 102.4h0.85M97.0 117.1h0.85M136.7 102.0h0.85M144.9 100.1h0.85M148.0 96.0h0.85M139.6 97.1h0.85M121.7 106.1h0.85M143.9 95.0h0.85M138.3 102.5h0.85M144.5 99.5h0.85M134.0 98.4h0.85M128.5 103.0h0.85M137.7 100.0h0.85M138.2 98.3h0.85M117.7 109.5h0.85M133.3 101.6h0.85M142.4 100.8h0.85M134.9 98.8h0.85M149.2 93.7h0.85M144.5 101.6h0.85M130.8 102.6h0.85M106.3 114.5h0.85M133.9 104.3h0.85M108.7 109.1h0.85M134.6 103.0h0.85M126.7 105.2h0.85M136.5 101.5h0.85M105.5 116.3h0.85M131.0 104.6h0.85M102.0 116.3h0.85M122.7 104.1h0.85M126.2 108.5h0.85M148.7 99.5h0.85M134.5 107.1h0.85M137.0 105.0h0.85M118.0 107.1h0.85M138.8 101.1h0.85M121.6 108.0h0.85M147.2 93.5h0.85M116.3 112.0h0.85M132.3 103.0h0.85M132.6 98.3h0.85M129.4 107.3h0.85M121.5 104.7h0.85M108.0 111.9h0.85M148.7 92.9h0.85M92.2 118.9h0.85M113.7 111.2h0.85M145.3 98.0h0.85M136.4 104.2h0.85M92.3 117.7h0.85M121.3 107.4h0.85M131.1 99.9h0.85M149.5 91.6h0.85M139.8 104.1h0.85M88.5 119.3h0.85M106.6 111.5h0.85M135.5 101.2h0.85M97.5 113.4h0.85M135.7 103.5h0.85M94.4 123.0h0.85M81.2 121.3h0.85M104.5 115.0h0.85M134.4 99.4h0.85M136.0 101.7h0.85M143.3 95.6h0.85M118.8 102.4h0.85M128.4 103.8h0.85M143.3 101.1h0.85M125.7 108.8h0.85M124.3 111.1h0.85M138.6 100.7h0.85M136.8 102.1h0.85M147.1 101.3h0.85M123.1 108.6h0.85M148.7 101.9h0.85M108.3 111.9h0.85M135.1 103.4h0.85M101.5 114.2h0.85M144.7 100.3h0.85M126.3 103.2h0.85M121.2 106.0h0.85M114.2 109.1h0.85M128.5 103.3h0.85M109.0 113.3h0.85M141.5 98.3h0.85M132.6 104.6h0.85M109.0 113.9h0.85M96.8 115.6h0.85M118.8 101.5h0.85M103.6 116.0h0.85M121.4 105.0h0.85M148.4 91.0h0.85M132.6 103.3h0.85M136.0 101.8h0.85M128.4 105.3h0.85M125.8 104.6h0.85M135.5 101.2h0.85M96.2 112.5h0.85M106.0 114.8h0.85M149.2 99.6h0.85M143.7 101.0h0.85M113.7 111.1h0.85M119.5 108.3h0.85M140.8 97.1h0.85M147.5 101.4h0.85M117.2 110.6h0.85M143.5 98.9h0.85M133.3 100.2h0.85M115.0 110.0h0.85M98.6 118.6h0.85M137.2 106.2h0.85M138.5 99.8h0.85M128.3 102.6h0.85M132.0 102.5h0.85M122.0 110.3h0.85M108.9 113.5h0.85M121.3 106.5h0.85M133.3 101.9h0.85M126.4 104.4h0.85M123.2 108.4h0.85M126.5 102.2h0.85M112.9 110.4h0.85M122.8 101.5h0.85M143.2 101.0h0.85M147.2 94.9h0.85M135.5 102.7h0.85M143.3 97.2h0.85M110.6 110.6h0.85M100.3 117.2h0.85M107.4 111.8h0.85M85.5 122.8h0.85M133.2 101.6h0.85M123.0 107.8h0.85M97.5 114.6h0.85M141.2 97.1h0.85M146.9 101.0h0.85M101.2 109.3h0.85M130.8 107.0h0.85M96.7 118.4h0.85M149.9 101.7h0.85M141.7 102.8h0.85M140.6 99.7h0.85M147.3 103.1h0.85M113.2 109.8h0.85M112.0 116.7h0.85M142.9 101.0h0.85M145.2 99.3h0.85M106.4 114.5h0.85M79.0 124.0h0.85M134.6 104.5h0.85M138.2 101.6h0.85M147.0 100.8h0.85M108.6 109.6h0.85M136.3 100.8h0.85M133.2 102.8h0.85M130.4 101.9h0.85M136.0 104.9h0.85M126.4 102.8h0.85M146.2 100.4h0.85M131.5 102.1h0.85M105.8 113.3h0.85M83.9 120.2h0.85M144.9 101.0h0.85M103.5 120.2h0.85M130.5 101.8h0.85M134.1 103.6h0.85M129.2 105.6h0.85M114.8 109.3h0.85M114.4 115.0h0.85M118.6 107.1h0.85M89.5 121.8h0.85M143.0 103.2h0.85M120.8 106.7h0.85M124.2 107.9h0.85M137.4 106.0h0.85M149.9 99.6h0.85M142.6 93.3h0.85M146.9 97.6h0.85M113.5 107.1h0.85M136.1 101.3h0.85M144.9 98.5h0.85M128.0 104.3h0.85M129.4 104.0h0.85M99.0 113.6h0.85M113.1 112.5h0.85M130.3 102.5h0.85M145.6 93.0h0.85M115.3 108.5h0.85M86.2 120.2h0.85M129.1 101.1h0.85M135.8 102.7h0.85M107.5 109.7h0.85M122.2 110.6h0.85M129.8 108.4h0.85M132.5 101.9h0.85M78.2 122.0h0.85M137.1 103.6h0.85M137.3 103.4h0.85M143.5 99.9h0.85M129.1 107.6h0.85M106.5 110.5h0.85M145.1 102.3h0.85M113.3 109.6h0.85M142.5 100.0h0.85M150.0 93.8h0.85M99.0 115.3h0.85M130.5 105.0h0.85M99.4 114.4h0.85M120.6 106.3h0.85M120.2 105.5h0.85M106.8 113.3h0.85M116.2 105.8h0.85M146.6 98.0h0.85M114.6 107.8h0.85M128.8 106.7h0.85M132.1 99.6h0.85M126.1 105.5h0.85M92.9 120.0h0.85M139.1 103.4h0.85M107.9 111.2h0.85M133.0 107.7h0.85M149.1 99.7h0.85M147.2 96.3h0.85M149.0 101.8h0.85M123.0 106.2h0.85M97.5 116.2h0.85M97.8 114.3h0.85M113.5 114.0h0.85M117.0 113.0h0.85M117.2 109.7h0.85M145.0 100.8h0.85M146.8 96.6h0.85M125.2 109.7h0.85M147.6 95.6h0.85M119.3 105.7h0.85M125.8 104.1h0.85M134.2 103.4h0.85M115.0 111.9h0.85M140.1 101.7h0.85M81.1 121.8h0.85M95.2 118.0h0.85M149.4 99.3h0.85M129.5 105.9h0.85M134.9 106.9h0.85M137.7 99.5h0.85M135.1 102.7h0.85M140.1 95.9h0.85M119.7 108.2h0.85M149.0 102.1h0.85M91.5 119.6h0.85M100.7 116.2h0.85M147.6 101.8h0.85M110.3 110.7h0.85M122.2 109.2h0.85M113.1 109.5h0.85M134.8 102.5h0.85M114.0 108.3h0.85M149.9 95.7h0.85M147.5 103.7h0.85M110.1 112.7h0.85M112.1 111.2h0.85M110.4 111.3h0.85M114.0 109.5h0.85M141.7 97.8h0.85M113.4 106.5h0.85M134.2 101.0h0.85M149.5 96.1h0.85M135.4 100.5h0.85M117.9 106.7h0.85M118.0 110.2h0.85M146.2 102.8h0.85M111.3 112.2h0.85M145.5 101.0h0.85M127.5 101.8h0.85M107.8 112.4h0.85M128.1 104.8h0.85M129.4 102.4h0.85M144.1 97.9h0.85M106.1 115.2h0.85M132.2 106.2h0.85M126.2 107.4h0.85M119.0 108.5h0.85M143.1 96.6h0.85M147.8 102.2h0.85M127.2 106.7h0.85M101.7 115.3h0.85M133.2 104.7h0.85M143.2 99.5h0.85M109.7 110.3h0.85M147.5 94.8h0.85M137.2 99.5h0.85M135.3 104.4h0.85M143.0 97.8h0.85M144.5 101.9h0.85M109.7 114.6h0.85M137.5 98.4h0.85M148.8 98.6h0.85M122.3 100.9h0.85M124.9 105.3h0.85M117.5 107.6h0.85M140.7 91.9h0.85M112.8 108.7h0.85M79.5 122.6h0.85M134.1 103.4h0.85M125.3 103.5h0.85M120.2 106.8h0.85M108.3 108.9h0.85M142.7 95.1h0.85M133.9 103.6h0.85M122.9 104.8h0.85M114.4 110.0h0.85M137.3 101.4h0.85M131.0 105.1h0.85M110.9 113.0h0.85M112.5 107.9h0.85M131.2 102.7h0.85M132.8 106.9h0.85M131.7 100.4h0.85M145.7 103.7h0.85M129.0 101.6h0.85M120.0 103.4h0.85M126.8 105.9h0.85M110.9 112.7h0.85M114.5 108.1h0.85M116.1 107.9h0.85M94.1 115.8h0.85M104.9 116.3h0.85M110.6 108.9h0.85M225.5 69.7h0.85M220.1 73.6h0.85M221.8 69.9h0.85M216.7 64.8h0.85M223.3 68.6h0.85M220.6 68.9h0.85M224.4 66.3h0.85M223.7 68.9h0.85M215.3 69.5h0.85M221.8 67.2h0.85M223.9 66.3h0.85M224.8 70.5h0.85M221.9 66.7h0.85M217.0 71.8h0.85M224.7 67.0h0.85M215.0 70.3h0.85M213.7 78.4h0.85M219.5 71.4h0.85M222.5 64.0h0.85M223.2 69.8h0.85M214.6 69.9h0.85M215.1 69.6h0.85M222.6 65.8h0.85M226.5 64.6h0.85M226.4 68.1h0.85M218.8 74.5h0.85M215.7 70.9h0.85M227.4 65.7h0.85M226.5 66.7h0.85M221.9 69.4h0.85M223.4 69.2h0.85M219.6 68.3h0.85M218.2 72.5h0.85M219.9 67.5h0.85M227.2 66.7h0.85M215.6 71.5h0.85M217.8 68.9h0.85M216.4 69.4h0.85M217.5 70.3h0.85M215.6 77.2h0.85M219.5 69.1h0.85M223.4 67.5h0.85M220.0 64.6h0.85M217.8 71.8h0.85M223.0 67.1h0.85M219.2 68.7h0.85M218.0 69.2h0.85M223.1 63.8h0.85M224.3 59.2h0.85M213.7 72.9h0.85M222.9 74.1h0.85M221.6 67.1h0.85M225.2 65.4h0.85M219.6 64.6h0.85M216.0 75.6h0.85M220.8 70.8h0.85M216.4 69.5h0.85M216.8 69.2h0.85M226.9 65.6h0.85M217.1 71.9h0.85M225.0 63.2h0.85M215.1 69.8h0.85M218.8 71.0h0.85M219.7 66.9h0.85M223.8 68.0h0.85M219.8 71.3h0.85M219.4 69.6h0.85M227.2 65.2h0.85M218.9 68.5h0.85M226.6 69.8h0.85M226.9 69.7h0.85M220.8 73.1h0.85M225.1 69.2h0.85M219.2 65.0h0.85M222.1 68.4h0.85M219.4 68.8h0.85M219.4 64.5h0.85M227.0 66.9h0.85M220.9 67.5h0.85M214.0 66.2h0.85M222.3 65.7h0.85M221.5 70.7h0.85M217.3 70.7h0.85M217.8 71.3h0.85M223.5 69.2h0.85M222.7 69.9h0.85M225.0 66.8h0.85M222.4 71.2h0.85M223.6 73.6h0.85M216.6 69.7h0.85M222.0 66.4h0.85M222.2 71.1h0.85M225.4 63.7h0.85M213.7 72.8h0.85M215.0 71.1h0.85M223.5 69.7h0.85M220.9 68.0h0.85M227.0 67.0h0.85M217.5 66.1h0.85M223.0 65.5h0.85M217.4 71.7h0.85M220.6 71.5h0.85M219.9 70.7h0.85M218.2 65.0h0.85M218.0 69.6h0.85M223.3 63.6h0.85M220.4 65.8h0.85M213.6 71.5h0.85M224.3 68.1h0.85M224.9 66.6h0.85M222.1 66.2h0.85M214.7 71.0h0.85M217.7 70.4h0.85M224.3 65.8h0.85M217.6 70.9h0.85M216.9 68.8h0.85M213.6 72.2h0.85M214.4 67.3h0.85M222.4 69.7h0.85M221.7 63.8h0.85" stroke="#bdbdbd" stroke-width="0.85" fill="none"/>
<circle cx="224.8" cy="28.8" r="1.7" fill="#f2a09a"/>
<circle cx="186" cy="45.4" r="1.7" fill="#404040"/>
<circle cx="207.3" cy="22.7" r="1.7" fill="#a8dcc0"/>
<circle cx="181.2" cy="50.8" r="1.7" fill="#e06010"/>
<circle cx="166.2" cy="61.2" r="1.7" fill="#eeeeee"/>
<circle cx="192.9" cy="53.3" r="1.7" fill="#dd5cbf"/>
<circle cx="183.5" cy="58.5" r="1.7" fill="#9ccc3c"/>
<circle cx="161.2" cy="73.1" r="1.7" fill="#5a7fd0"/>
<circle cx="171.3" cy="71" r="1.7" fill="#c040c0"/>
<circle cx="203.5" cy="42.3" r="1.7" fill="#f0a040"/>
<circle cx="197.3" cy="62.7" r="1.7" fill="#e4eeb0"/>
<circle cx="150" cy="79" r="1.7" fill="#f5c518"/>
<circle cx="184.6" cy="62.9" r="1.7" fill="#60b040"/>
<circle cx="177.9" cy="66.9" r="1.7" fill="#f8c8e0"/>
<circle cx="214.8" cy="54.2" r="1.7" fill="#f0b0e0"/>
<circle cx="168.8" cy="70.2" r="1.7" fill="#b05010"/>
<circle cx="168.5" cy="72" r="1.7" fill="#f8e0c0"/>
<circle cx="159.2" cy="76.2" r="1.7" fill="#e0a020"/>
<circle cx="221.3" cy="50.6" r="1.7" fill="#2f60b0"/>
<circle cx="143.5" cy="81.5" r="1.7" fill="#d01080"/>
<rect x="316.5" y="18.75" width="196.0" height="111.05000000000001" fill="none" stroke="#111" stroke-width="1.4"/>
<line x1="483.5" y1="18.75" x2="483.5" y2="129.8" stroke="#111" stroke-width="1.4"/>
<line x1="313.2" y1="125.9" x2="316.5" y2="125.9" stroke="#111" stroke-width="1.1"/>
<text x="309.7" y="128.5" font-size="8.2" text-anchor="end" fill="#1a1a1a" stroke="#1a1a1a" stroke-width="0.18">0</text>
<line x1="313.2" y1="100.05000000000001" x2="316.5" y2="100.05000000000001" stroke="#111" stroke-width="1.1"/>
<text x="309.7" y="102.65" font-size="8.2" text-anchor="end" fill="#1a1a1a" stroke="#1a1a1a" stroke-width="0.18">2</text>
<line x1="313.2" y1="74.2" x2="316.5" y2="74.2" stroke="#111" stroke-width="1.1"/>
<text x="309.7" y="76.8" font-size="8.2" text-anchor="end" fill="#1a1a1a" stroke="#1a1a1a" stroke-width="0.18">4</text>
<line x1="313.2" y1="48.349999999999994" x2="316.5" y2="48.349999999999994" stroke="#111" stroke-width="1.1"/>
<text x="309.7" y="50.95" font-size="8.2" text-anchor="end" fill="#1a1a1a" stroke="#1a1a1a" stroke-width="0.18">6</text>
<line x1="313.2" y1="22.5" x2="316.5" y2="22.5" stroke="#111" stroke-width="1.1"/>
<text x="309.7" y="25.1" font-size="8.2" text-anchor="end" fill="#1a1a1a" stroke="#1a1a1a" stroke-width="0.18">8</text>
<line x1="322.5" y1="129.8" x2="322.5" y2="132.4" stroke="#111" stroke-width="1.1"/>
<text x="322.5" y="143.4" font-size="8.2" text-anchor="middle" fill="#1a1a1a" stroke="#1a1a1a" stroke-width="0.18">0</text>
<line x1="351.33" y1="129.8" x2="351.33" y2="132.4" stroke="#111" stroke-width="1.1"/>
<text x="351.33" y="143.4" font-size="8.2" text-anchor="middle" fill="#1a1a1a" stroke="#1a1a1a" stroke-width="0.18">1</text>
<line x1="380.15999999999997" y1="129.8" x2="380.15999999999997" y2="132.4" stroke="#111" stroke-width="1.1"/>
<text x="380.16" y="143.4" font-size="8.2" text-anchor="middle" fill="#1a1a1a" stroke="#1a1a1a" stroke-width="0.18">2</text>
<line x1="408.99" y1="129.8" x2="408.99" y2="132.4" stroke="#111" stroke-width="1.1"/>
<text x="408.99" y="143.4" font-size="8.2" text-anchor="middle" fill="#1a1a1a" stroke="#1a1a1a" stroke-width="0.18">3</text>
<line x1="437.82" y1="129.8" x2="437.82" y2="132.4" stroke="#111" stroke-width="1.1"/>
<text x="437.82" y="143.4" font-size="8.2" text-anchor="middle" fill="#1a1a1a" stroke="#1a1a1a" stroke-width="0.18">4</text>
<line x1="466.65" y1="129.8" x2="466.65" y2="132.4" stroke="#111" stroke-width="1.1"/>
<text x="466.65" y="143.4" font-size="8.2" text-anchor="middle" fill="#1a1a1a" stroke="#1a1a1a" stroke-width="0.18">5</text>
<line x1="495.48" y1="129.8" x2="495.48" y2="132.4" stroke="#111" stroke-width="1.1"/>
<text x="495.48" y="143.4" font-size="8.2" text-anchor="middle" fill="#1a1a1a" stroke="#1a1a1a" stroke-width="0.18">6</text>
<text x="320" y="28.7" font-size="7.9" fill="#1a1a1a" textLength="40.5" lengthAdjust="spacingAndGlyphs" stroke="#1a1a1a" stroke-width="0.08">Sublibrary B</text>
<text x="289.3" y="74.5" font-size="9.8" text-anchor="middle" fill="#1a1a1a" font-weight="bold" textLength="102.8" lengthAdjust="spacingAndGlyphs" transform="rotate(-90 289.3 74.5)">Mean normalized counts per gene</text>
<text x="299.5" y="74.5" font-size="9.8" text-anchor="middle" fill="#1a1a1a" font-weight="bold" textLength="27.3" lengthAdjust="spacingAndGlyphs" transform="rotate(-90 299.5 74.5)">LAM-003</text>
<text x="414.6" y="158" font-size="9.8" text-anchor="middle" fill="#1a1a1a" font-weight="bold" textLength="103" lengthAdjust="spacingAndGlyphs">Mean normalized counts per gene</text>
<text x="414.6" y="168.8" font-size="9.8" text-anchor="middle" fill="#1a1a1a" font-weight="bold" textLength="45.5" lengthAdjust="spacingAndGlyphs">control (day 3)</text>
<rect x="484.9" y="22.70" width="1.5" height="1.5" fill="#e070c0"/>
<text x="490.1" y="25.2" font-size="4.9" fill="#444" textLength="14.99" lengthAdjust="spacingAndGlyphs" stroke="#444" stroke-width="0.12">KDM6A</text>
<rect x="484.9" y="28.05" width="1.5" height="1.5" fill="#7090d0"/>
<text x="490.1" y="30.55" font-size="4.9" fill="#444" textLength="14.99" lengthAdjust="spacingAndGlyphs" stroke="#444" stroke-width="0.12">JARID2</text>
<rect x="484.9" y="33.40" width="1.5" height="1.5" fill="#f0a050"/>
<text x="490.1" y="35.9" font-size="4.9" fill="#444" textLength="17.57" lengthAdjust="spacingAndGlyphs" stroke="#444" stroke-width="0.12">C11orf73</text>
<rect x="484.9" y="38.75" width="1.5" height="1.5" fill="#2e8b57"/>
<text x="490.1" y="41.25" font-size="4.9" fill="#444" textLength="14.51" lengthAdjust="spacingAndGlyphs" stroke="#444" stroke-width="0.12">SUDS3</text>
<rect x="484.9" y="44.10" width="1.5" height="1.5" fill="#333333"/>
<text x="490.1" y="46.6" font-size="4.9" fill="#444" textLength="14.99" lengthAdjust="spacingAndGlyphs" stroke="#444" stroke-width="0.12">BRMS1</text>
<rect x="484.9" y="49.45" width="1.5" height="1.5" fill="#a6d84a"/>
<text x="490.1" y="51.95" font-size="4.9" fill="#444" textLength="17.41" lengthAdjust="spacingAndGlyphs" stroke="#444" stroke-width="0.12">PPP1CC</text>
<rect x="484.9" y="54.80" width="1.5" height="1.5" fill="#40a030"/>
<text x="490.1" y="57.3" font-size="4.9" fill="#444" textLength="12.57" lengthAdjust="spacingAndGlyphs" stroke="#444" stroke-width="0.12">SIN3A</text>
<rect x="484.9" y="60.15" width="1.5" height="1.5" fill="#c8e8b8"/>
<text x="490.1" y="62.65" font-size="4.9" fill="#444" textLength="15.71" lengthAdjust="spacingAndGlyphs" stroke="#444" stroke-width="0.12">ZNF669</text>
<rect x="484.9" y="65.50" width="1.5" height="1.5" fill="#d080d0"/>
<text x="490.1" y="68.0" font-size="4.9" fill="#444" textLength="10.4" lengthAdjust="spacingAndGlyphs" stroke="#444" stroke-width="0.12">ELF4</text>
<rect x="484.9" y="70.85" width="1.5" height="1.5" fill="#2060b0"/>
<text x="490.1" y="73.35" font-size="4.9" fill="#444" textLength="9.18" lengthAdjust="spacingAndGlyphs" stroke="#444" stroke-width="0.12">WT1</text>
<rect x="484.9" y="76.20" width="1.5" height="1.5" fill="#f5f060"/>
<text x="490.1" y="78.7" font-size="4.9" fill="#444" textLength="10.88" lengthAdjust="spacingAndGlyphs" stroke="#444" stroke-width="0.12">MLL3</text>
<rect x="484.9" y="81.55" width="1.5" height="1.5" fill="#e01070"/>
<text x="490.1" y="84.05" font-size="4.9" fill="#444" textLength="17.89" lengthAdjust="spacingAndGlyphs" stroke="#444" stroke-width="0.12">SPOCD1</text>
<rect x="484.9" y="86.90" width="1.5" height="1.5" fill="#f0b080"/>
<text x="490.1" y="89.4" font-size="4.9" fill="#444" textLength="9.18" lengthAdjust="spacingAndGlyphs" stroke="#444" stroke-width="0.12">AHR</text>
<rect x="484.9" y="92.25" width="1.5" height="1.5" fill="#e0c8a0"/>
<text x="490.1" y="94.75" font-size="4.9" fill="#444" textLength="15.39" lengthAdjust="spacingAndGlyphs" stroke="#444" stroke-width="0.12">CRYGA</text>
<rect x="484.9" y="97.60" width="1.5" height="1.5" fill="#e07050"/>
<text x="490.1" y="100.1" font-size="4.9" fill="#444" textLength="9.43" lengthAdjust="spacingAndGlyphs" stroke="#444" stroke-width="0.12">BOC</text>
<rect x="484.9" y="102.95" width="1.5" height="1.5" fill="#c0e8b0"/>
<text x="490.1" y="105.45" font-size="4.9" fill="#444" textLength="14.75" lengthAdjust="spacingAndGlyphs" stroke="#444" stroke-width="0.12">COPS3</text>
<rect x="484.9" y="108.30" width="1.5" height="1.5" fill="#80a8e0"/>
<text x="490.1" y="110.8" font-size="4.9" fill="#444" textLength="17.17" lengthAdjust="spacingAndGlyphs" stroke="#444" stroke-width="0.12">POLR2E</text>
<rect x="484.9" y="113.65" width="1.5" height="1.5" fill="#2050b0"/>
<text x="490.1" y="116.15" font-size="4.9" fill="#444" textLength="20.55" lengthAdjust="spacingAndGlyphs" stroke="#444" stroke-width="0.12">CRAMP1L</text>
<rect x="484.9" y="119.00" width="1.5" height="1.5" fill="#d05a10"/>
<text x="490.1" y="121.5" font-size="4.9" fill="#444" textLength="14.27" lengthAdjust="spacingAndGlyphs" stroke="#444" stroke-width="0.12">AHSA1</text>
<rect x="484.9" y="124.35" width="1.5" height="1.5" fill="#e0107a"/>
<text x="490.1" y="126.85" font-size="4.9" fill="#444" textLength="16.19" lengthAdjust="spacingAndGlyphs" stroke="#444" stroke-width="0.12">ZNF75A</text>
<polygon points="388,97.8 398.4,91.5 415,83.0 431,74.5 445,67 461,60.3 472,56.8 478,55.0 481,54.3 481,55.3 478,58.0 472,63.2 461,70.3 445,79 431,85.5 415,91.4 398.4,96.5 388,98.8" fill="#bebebe"/>
<path d="M411.3 84.6h0.85M476.0 55.6h0.85M405.6 87.1h0.85M404.7 82.0h0.85M420.5 80.1h0.85M409.4 85.8h0.85M450.4 58.7h0.85M398.7 89.1h0.85M471.4 54.2h0.85M467.8 58.4h0.85M388.3 97.2h0.85M438.4 66.9h0.85M397.9 89.8h0.85M412.0 82.3h0.85M426.8 74.0h0.85M430.2 74.1h0.85M431.5 69.0h0.85M474.3 51.1h0.85M412.1 80.8h0.85M405.5 87.8h0.85M450.4 63.8h0.85M476.0 50.9h0.85M473.8 56.4h0.85M469.9 36.4h0.85M394.0 92.4h0.85M475.1 48.9h0.85M448.4 63.7h0.85M469.1 50.9h0.85M426.0 68.4h0.85M408.4 85.7h0.85M461.7 55.6h0.85M449.5 65.1h0.85M460.4 58.6h0.85M406.7 85.1h0.85M400.5 90.0h0.85M459.0 55.2h0.85M389.9 96.9h0.85M475.9 55.2h0.85M400.6 90.4h0.85M443.8 64.7h0.85M427.0 67.4h0.85M418.1 80.5h0.85M403.8 88.6h0.85M460.6 56.8h0.85M473.1 53.8h0.85M455.8 51.3h0.85M443.8 57.1h0.85M454.2 59.9h0.85M437.9 66.3h0.85M439.9 63.0h0.85M472.3 56.8h0.85M414.3 83.6h0.85M408.7 85.3h0.85M476.1 50.9h0.85M475.7 53.2h0.85M432.3 72.3h0.85M462.5 59.9h0.85M457.1 54.4h0.85M476.3 54.5h0.85M395.6 90.7h0.85M471.5 53.9h0.85M434.5 72.2h0.85M429.8 69.0h0.85M451.9 61.5h0.85M445.3 62.5h0.85M428.6 75.7h0.85M415.1 83.1h0.85M473.4 51.0h0.85M464.1 55.6h0.85M397.5 91.4h0.85M425.6 77.2h0.85M459.0 54.7h0.85M469.8 41.8h0.85M477.5 48.9h0.85M410.4 85.4h0.85M470.9 52.5h0.85M452.6 49.6h0.85M394.3 93.6h0.85M407.6 84.8h0.85M405.5 87.9h0.85M395.2 91.6h0.85M451.9 62.0h0.85M416.8 80.9h0.85M452.3 63.0h0.85M395.6 93.1h0.85M469.0 51.7h0.85M452.7 60.5h0.85M460.7 58.3h0.85M444.4 67.3h0.85M430.6 66.0h0.85M406.0 87.9h0.85M475.6 45.2h0.85M401.5 87.9h0.85M436.5 70.7h0.85M399.3 91.1h0.85M398.1 91.3h0.85M452.8 62.7h0.85M470.7 44.1h0.85M430.9 73.9h0.85M461.9 56.8h0.85M467.9 57.6h0.85M437.8 23.7h0.85M460.1 60.4h0.85M415.2 79.8h0.85M402.0 88.5h0.85M405.6 88.1h0.85M388.7 95.3h0.85M394.6 94.1h0.85M457.9 55.4h0.85M472.0 56.5h0.85M393.3 92.2h0.85M455.0 61.4h0.85M460.3 59.1h0.85M451.4 56.4h0.85M434.4 67.7h0.85M433.2 71.9h0.85M452.6 57.2h0.85M410.8 84.9h0.85M458.0 61.6h0.85M405.9 86.8h0.85M391.3 94.6h0.85M474.8 55.4h0.85M396.4 92.1h0.85M406.3 87.0h0.85M393.2 91.8h0.85M389.0 97.1h0.85M399.5 89.6h0.85M473.7 54.5h0.85M452.7 61.5h0.85M425.7 76.3h0.85M388.6 96.8h0.85M465.0 43.3h0.85M433.1 72.4h0.85M467.4 53.9h0.85M434.9 68.0h0.85M395.3 89.3h0.85M394.9 93.3h0.85M461.5 57.4h0.85M408.7 85.6h0.85M402.0 88.0h0.85M426.1 75.8h0.85M412.3 82.9h0.85M413.7 83.1h0.85M461.8 58.5h0.85M431.6 67.5h0.85M480.6 54.0h0.85M397.1 91.5h0.85M415.4 81.8h0.85M470.0 57.4h0.85M428.5 76.1h0.85M459.6 56.5h0.85M428.3 72.9h0.85M425.8 77.6h0.85M470.4 54.0h0.85M417.2 73.2h0.85M438.8 66.3h0.85M440.5 65.7h0.85M392.0 95.0h0.85M397.2 90.7h0.85M410.0 85.8h0.85M388.3 97.8h0.85M451.5 59.6h0.85M441.8 68.3h0.85M419.8 80.7h0.85M427.0 73.7h0.85M391.8 93.4h0.85M425.3 76.7h0.85M466.2 57.8h0.85M391.5 91.2h0.85M448.7 65.0h0.85M452.3 60.4h0.85M408.4 83.8h0.85M415.5 74.0h0.85M404.7 86.0h0.85M440.6 69.0h0.85M422.3 78.9h0.85M400.1 90.2h0.85M414.9 82.6h0.85M410.7 85.0h0.85M479.8 54.3h0.85M444.8 66.1h0.85M432.5 69.0h0.85M433.5 72.3h0.85M441.6 62.5h0.85M479.2 48.1h0.85M423.8 55.0h0.85M393.3 94.8h0.85M405.2 87.5h0.85M388.7 96.4h0.85M406.8 85.9h0.85M444.0 60.9h0.85M411.9 82.7h0.85M465.8 55.9h0.85M476.5 47.3h0.85M399.4 90.8h0.85M463.0 55.1h0.85M449.5 64.3h0.85M480.3 52.2h0.85M405.6 86.6h0.85M459.2 58.8h0.85M418.9 77.2h0.85M406.5 82.0h0.85M412.1 84.7h0.85M475.3 54.0h0.85M432.5 71.1h0.85M428.5 70.9h0.85M469.1 56.0h0.85M467.7 57.8h0.85M471.4 56.4h0.85M390.1 96.4h0.85M480.6 45.7h0.85M451.8 63.7h0.85M472.0 55.7h0.85M462.7 58.8h0.85M471.5 56.9h0.85M470.4 35.0h0.85M448.2 65.2h0.85M399.8 90.5h0.85M451.2 64.5h0.85M391.3 95.6h0.85M420.6 76.6h0.85M414.4 79.3h0.85M415.5 81.1h0.85M463.0 57.1h0.85M470.0 55.0h0.85M471.8 55.7h0.85M445.6 65.6h0.85M459.8 56.8h0.85M399.7 90.9h0.85M420.2 79.5h0.85M461.2 55.6h0.85M430.3 65.1h0.85M434.0 71.8h0.85M461.0 53.4h0.85M408.8 81.8h0.85M468.6 55.3h0.85M456.8 59.6h0.85M395.1 92.3h0.85M427.5 76.0h0.85M473.2 55.1h0.85M413.2 81.4h0.85M389.2 96.8h0.85M403.9 82.4h0.85M438.5 68.9h0.85M397.5 91.7h0.85M393.0 91.9h0.85M400.7 89.2h0.85M464.7 54.3h0.85M478.0 53.6h0.85M400.6 89.8h0.85M439.9 67.6h0.85M451.3 59.9h0.85M394.6 93.1h0.85M469.8 56.5h0.85M457.5 54.3h0.85M451.3 64.5h0.85M432.7 72.0h0.85M461.5 59.2h0.85M464.7 54.2h0.85M414.6 81.3h0.85M410.0 85.3h0.85M479.5 54.2h0.85M433.1 69.9h0.85M426.4 75.2h0.85M474.9 53.8h0.85M455.1 61.5h0.85M457.4 48.8h0.85M462.8 55.9h0.85M465.6 58.5h0.85M451.5 64.3h0.85M480.5 53.5h0.85M461.5 51.2h0.85M465.0 57.0h0.85M465.3 56.0h0.85M392.3 94.6h0.85M480.1 51.4h0.85M459.1 60.0h0.85M395.9 90.1h0.85M455.1 60.4h0.85M453.9 62.4h0.85M434.4 66.6h0.85M416.2 80.0h0.85M438.1 60.7h0.85M403.1 80.8h0.85M424.6 73.2h0.85M446.0 66.6h0.85M454.5 56.4h0.85M438.5 60.3h0.85M470.7 49.1h0.85M471.0 49.0h0.85M443.1 54.8h0.85M411.2 84.9h0.85M392.3 95.2h0.85M441.9 65.4h0.85M436.1 67.7h0.85M388.2 97.6h0.85M401.2 90.0h0.85M478.0 54.8h0.85M457.9 60.7h0.85M472.1 55.7h0.85M418.1 73.1h0.85M428.1 75.3h0.85M442.3 63.8h0.85M425.4 77.7h0.85M390.9 95.6h0.85M431.7 72.6h0.85M450.0 63.4h0.85M421.3 79.1h0.85M473.9 51.1h0.85M474.7 52.8h0.85M390.7 96.2h0.85M426.7 77.0h0.85M444.1 64.0h0.85M425.9 67.8h0.85M479.0 53.0h0.85M416.1 77.5h0.85M471.5 55.5h0.85M420.0 77.1h0.85M470.5 56.6h0.85M397.4 91.5h0.85M467.2 45.0h0.85M466.3 58.5h0.85M440.4 67.1h0.85M416.3 82.0h0.85M424.3 77.6h0.85M399.8 89.9h0.85M414.0 80.5h0.85M436.0 64.8h0.85M436.5 71.2h0.85M431.8 69.7h0.85M469.2 48.1h0.85M407.9 86.3h0.85M460.8 54.4h0.85M468.2 54.5h0.85M421.0 79.9h0.85M393.3 94.8h0.85M464.3 55.6h0.85M455.8 58.6h0.85M433.1 69.4h0.85M474.1 55.2h0.85M412.2 82.1h0.85M455.6 51.3h0.85M448.3 50.2h0.85M424.0 63.9h0.85M460.4 58.2h0.85M397.9 91.0h0.85M416.7 76.6h0.85M434.0 70.2h0.85M477.7 54.8h0.85M458.9 53.1h0.85M393.2 93.6h0.85M446.2 52.8h0.85M400.8 88.8h0.85M424.3 75.9h0.85M477.6 54.0h0.85M413.5 80.6h0.85M397.6 91.4h0.85M474.2 55.0h0.85M407.8 86.1h0.85M442.7 56.1h0.85M412.3 77.9h0.85M475.9 53.5h0.85M457.9 59.6h0.85M462.4 59.7h0.85M397.5 90.6h0.85M421.6 78.7h0.85M467.6 56.0h0.85M415.4 81.1h0.85M398.0 90.6h0.85M467.6 58.4h0.85M413.1 83.1h0.85M443.0 66.9h0.85M405.7 80.2h0.85M399.3 90.5h0.85M433.8 69.7h0.85M447.4 64.4h0.85M459.6 60.0h0.85M474.7 54.9h0.85M436.3 69.9h0.85M451.9 60.5h0.85M417.0 81.3h0.85M471.0 52.6h0.85M420.0 76.1h0.85M391.5 95.6h0.85M407.6 85.7h0.85M401.4 89.2h0.85M447.5 63.4h0.85M402.8 88.0h0.85M430.4 73.5h0.85M418.6 80.9h0.85M461.9 55.6h0.85M415.0 81.8h0.85M410.1 83.9h0.85M414.8 82.3h0.85M405.7 85.0h0.85M449.0 57.7h0.85M436.6 63.8h0.85M452.7 59.3h0.85M398.8 91.4h0.85M462.6 51.9h0.85M438.5 67.3h0.85M478.6 49.6h0.85M479.9 53.7h0.85M389.4 95.0h0.85M444.0 65.3h0.85M411.6 84.6h0.85M452.5 57.4h0.85M400.7 88.7h0.85M440.7 68.1h0.85M458.8 57.8h0.85M441.0 68.2h0.85M416.1 81.8h0.85M457.3 61.9h0.85M474.9 48.9h0.85M413.7 81.6h0.85M398.2 87.6h0.85M424.7 75.9h0.85M426.0 64.7h0.85M424.5 69.4h0.85M476.2 54.0h0.85M410.4 80.1h0.85M393.3 93.3h0.85M389.4 97.0h0.85M432.9 71.9h0.85M413.0 84.1h0.85M433.5 71.1h0.85M452.4 52.1h0.85M418.0 81.1h0.85M400.0 90.7h0.85M472.8 53.5h0.85M405.2 86.4h0.85M416.9 76.2h0.85M390.1 96.0h0.85M444.9 66.9h0.85M410.2 84.9h0.85M457.5 51.3h0.85M427.9 69.5h0.85M464.9 58.6h0.85M419.2 79.9h0.85M460.6 45.9h0.85M394.6 93.1h0.85M420.9 79.5h0.85M417.9 75.3h0.85M426.0 77.1h0.85M408.2 85.6h0.85M415.2 80.2h0.85M478.4 53.9h0.85M395.6 92.6h0.85M434.1 71.8h0.85M472.2 53.3h0.85M431.0 62.5h0.85M429.4 73.0h0.85M436.5 69.6h0.85M400.5 89.3h0.85M406.6 85.5h0.85M453.2 62.9h0.85M443.6 65.2h0.85M409.3 85.2h0.85M432.7 72.0h0.85M479.7 54.7h0.85M407.0 87.2h0.85M462.4 55.1h0.85M475.2 55.5h0.85M438.3 68.7h0.85M403.0 85.5h0.85M432.0 73.5h0.85M460.9 57.6h0.85M449.4 65.3h0.85M466.3 58.7h0.85M434.7 69.5h0.85M388.6 97.1h0.85M391.0 95.6h0.85M462.2 55.6h0.85M437.9 68.9h0.85M472.6 54.1h0.85M466.7 47.0h0.85M447.7 50.6h0.85M443.2 63.3h0.85M460.1 51.0h0.85M403.9 87.0h0.85M422.4 76.6h0.85M447.7 62.4h0.85M436.6 70.8h0.85M403.5 87.6h0.85M418.2 78.8h0.85M400.7 89.0h0.85M465.7 56.3h0.85M404.9 82.5h0.85M448.3 63.0h0.85M403.7 88.8h0.85M399.8 90.6h0.85M391.9 94.5h0.85M421.5 75.8h0.85M465.8 58.3h0.85M472.6 51.0h0.85M438.0 68.0h0.85M468.4 56.2h0.85M448.8 62.2h0.85M477.1 52.6h0.85M407.4 85.9h0.85M411.8 84.7h0.85M413.1 80.3h0.85M464.2 58.3h0.85M475.1 49.5h0.85M460.1 59.5h0.85M477.4 55.4h0.85M388.7 95.4h0.85M403.0 85.2h0.85M402.2 89.1h0.85M418.7 80.0h0.85M422.2 70.5h0.85M425.4 71.2h0.85M402.6 82.8h0.85M436.8 71.1h0.85M449.2 65.5h0.85M463.7 58.1h0.85M402.1 89.3h0.85M479.6 51.2h0.85M412.0 83.3h0.85M426.9 76.1h0.85M471.8 47.7h0.85M401.9 87.4h0.85M427.3 63.8h0.85M420.7 76.8h0.85M396.2 91.9h0.85M392.1 94.7h0.85M407.3 83.0h0.85M435.8 69.2h0.85M392.3 95.2h0.85M406.6 87.4h0.85M475.7 54.2h0.85M433.1 68.6h0.85M413.6 82.7h0.85M479.2 53.6h0.85M454.5 61.8h0.85M420.1 69.3h0.85M466.6 54.2h0.85M391.5 95.1h0.85M417.5 81.0h0.85M476.5 39.6h0.85M437.0 70.0h0.85M396.9 92.5h0.85M396.2 92.6h0.85M475.6 50.5h0.85M423.4 78.1h0.85M470.6 35.0h0.85M411.7 83.6h0.85M442.4 68.4h0.85M410.0 85.3h0.85M466.9 58.4h0.85M461.8 54.2h0.85M478.5 54.6h0.85M433.7 72.9h0.85M459.0 59.3h0.85M396.6 92.7h0.85M445.0 66.1h0.85M457.1 59.8h0.85M457.4 59.9h0.85M413.8 80.0h0.85M389.6 96.2h0.85M445.3 64.5h0.85M458.5 60.5h0.85M438.0 68.1h0.85M404.6 85.0h0.85M425.7 76.6h0.85M409.0 84.3h0.85M469.7 54.2h0.85M451.2 61.9h0.85M444.8 66.5h0.85M455.0 52.7h0.85M479.5 54.8h0.85M477.4 49.3h0.85M389.3 97.2h0.85M392.3 94.8h0.85M480.6 51.4h0.85M422.6 73.9h0.85M456.3 58.8h0.85M423.2 76.4h0.85M462.1 54.8h0.85M457.8 55.8h0.85M415.5 82.9h0.85M455.5 56.8h0.85M390.2 95.8h0.85M392.3 94.1h0.85M435.7 72.0h0.85M473.4 54.8h0.85M480.6 54.6h0.85M392.4 95.4h0.85M418.5 79.2h0.85M400.3 89.3h0.85M470.4 57.0h0.85M424.9 76.4h0.85M417.4 71.2h0.85M428.6 74.1h0.85M423.8 68.7h0.85M436.9 66.9h0.85M395.6 92.4h0.85M396.8 92.6h0.85M412.8 83.8h0.85M399.4 89.7h0.85M478.0 53.9h0.85M402.3 89.4h0.85M470.9 55.6h0.85M416.0 82.7h0.85M480.3 51.3h0.85M401.8 89.8h0.85M441.6 68.9h0.85M453.4 60.3h0.85M390.5 94.7h0.85M439.1 64.1h0.85M434.3 65.3h0.85M462.8 59.6h0.85M422.2 78.5h0.85M433.9 72.1h0.85M390.4 96.1h0.85M452.4 61.3h0.85M477.8 53.6h0.85M460.6 56.1h0.85M462.3 44.7h0.85M458.2 59.7h0.85M409.5 86.1h0.85M475.5 55.4h0.85M395.7 92.1h0.85M432.1 74.1h0.85M464.4 58.8h0.85M456.0 57.0h0.85M410.6 83.1h0.85M415.3 82.5h0.85M438.3 58.8h0.85M423.4 75.3h0.85M401.5 87.3h0.85M413.6 79.4h0.85M457.0 46.4h0.85M430.5 68.6h0.85M435.5 61.3h0.85M399.1 89.9h0.85M390.3 96.0h0.85M472.5 56.2h0.85M466.6 57.9h0.85M433.8 65.0h0.85M448.7 30.3h0.85M450.5 60.6h0.85M429.7 57.8h0.85M397.4 89.8h0.85M390.1 96.3h0.85M457.3 57.7h0.85M464.3 59.3h0.85M394.1 92.2h0.85M463.6 22.0h0.85M389.8 97.0h0.85M469.9 55.8h0.85M434.8 71.2h0.85M434.1 68.0h0.85M480.6 53.8h0.85M456.8 61.3h0.85M437.3 71.0h0.85M467.0 58.1h0.85M429.7 69.7h0.85M414.4 81.0h0.85M462.7 54.7h0.85M464.3 58.0h0.85M445.2 65.3h0.85M413.5 83.6h0.85M479.5 52.6h0.85M463.4 45.7h0.85M403.7 86.7h0.85M448.6 64.0h0.85M442.0 64.6h0.85M392.1 93.8h0.85M451.1 53.0h0.85M395.8 91.2h0.85M450.8 64.4h0.85M447.4 64.9h0.85M470.1 57.0h0.85M415.0 83.3h0.85M441.6 68.8h0.85M455.9 60.3h0.85M392.4 94.4h0.85M406.3 86.7h0.85M443.9 61.7h0.85M467.9 54.2h0.85M427.6 69.9h0.85M476.9 53.9h0.85M480.5 54.1h0.85M424.6 76.8h0.85M422.0 67.9h0.85M448.9 63.7h0.85M448.5 65.8h0.85M472.9 48.4h0.85M406.6 84.4h0.85M473.7 53.0h0.85M432.1 74.1h0.85M415.8 82.0h0.85M424.0 53.6h0.85M408.0 86.1h0.85M415.3 80.8h0.85M459.2 58.6h0.85M421.5 79.1h0.85M470.7 57.0h0.85M450.0 58.3h0.85M425.5 76.4h0.85M425.2 73.0h0.85M442.2 67.7h0.85M444.2 63.9h0.85M416.6 79.5h0.85M390.0 95.7h0.85M440.8 68.9h0.85M418.1 73.8h0.85M460.2 54.0h0.85M470.5 57.3h0.85M420.1 79.7h0.85M421.4 79.3h0.85M479.8 52.4h0.85M461.4 50.6h0.85M460.8 49.3h0.85M410.5 85.0h0.85M474.0 53.7h0.85M443.0 65.4h0.85M431.7 70.2h0.85M410.6 81.5h0.85M452.9 60.4h0.85M461.6 60.1h0.85M426.4 77.0h0.85M458.9 57.4h0.85M452.6 62.7h0.85M413.9 76.5h0.85M451.5 62.5h0.85M398.6 88.5h0.85M434.6 58.1h0.85M435.6 72.0h0.85M457.3 59.4h0.85M458.6 60.1h0.85M441.7 67.4h0.85M389.6 96.9h0.85M400.1 87.9h0.85M445.6 62.6h0.85M468.9 56.5h0.85M393.7 94.4h0.85M462.3 54.4h0.85M434.8 71.7h0.85M450.8 63.1h0.85M390.4 96.3h0.85M425.6 77.1h0.85M474.6 56.2h0.85M401.3 89.8h0.85M407.4 84.1h0.85M424.6 76.8h0.85M432.8 70.4h0.85M392.1 95.5h0.85M395.2 92.2h0.85M443.4 68.0h0.85M388.4 97.3h0.85M410.4 81.6h0.85M412.8 83.0h0.85M410.8 75.4h0.85M474.0 53.1h0.85M407.5 86.1h0.85M448.5 65.2h0.85M405.7 86.6h0.85M473.9 52.3h0.85M456.9 62.3h0.85M407.3 83.7h0.85M441.3 67.1h0.85M439.6 62.1h0.85M388.6 97.6h0.85M468.6 51.1h0.85M411.6 74.1h0.85M453.0 63.0h0.85M396.6 91.2h0.85M431.3 74.5h0.85M422.7 77.7h0.85M454.4 58.3h0.85M413.6 83.0h0.85M397.8 88.6h0.85M412.5 84.1h0.85M393.1 92.7h0.85M480.0 54.2h0.85M419.9 80.3h0.85M470.8 37.6h0.85M435.0 64.6h0.85M474.8 52.0h0.85M433.2 73.3h0.85M404.7 87.2h0.85M410.4 85.1h0.85M426.5 77.2h0.85M398.8 91.4h0.85M448.6 65.4h0.85M394.0 94.1h0.85M432.0 65.6h0.85M438.6 66.5h0.85M477.3 55.1h0.85M427.3 71.5h0.85M470.3 55.9h0.85M434.5 72.9h0.85M445.5 65.9h0.85M466.3 55.7h0.85M438.3 68.4h0.85M477.4 54.8h0.85M470.5 54.5h0.85M400.8 95.7h0.85M407.9 94.2h0.85M467.4 69.0h0.85M461.4 71.5h0.85M444.2 79.7h0.85M475.4 60.2h0.85M476.1 60.2h0.85M467.8 66.0h0.85M407.2 94.8h0.85M417.2 91.3h0.85M441.5 83.0h0.85M473.5 62.8h0.85M406.5 94.8h0.85M407.0 94.1h0.85M450.6 77.3h0.85M421.2 88.9h0.85M402.9 97.4h0.85M433.9 84.8h0.85M422.4 88.4h0.85M476.9 58.7h0.85M473.1 62.6h0.85M409.5 93.1h0.85M396.2 96.9h0.85M462.6 69.0h0.85M388.8 99.7h0.85M464.5 68.1h0.85M395.5 99.0h0.85M479.4 56.8h0.85M422.0 88.6h0.85M452.1 75.2h0.85M446.0 78.2h0.85M388.5 99.5h0.85M407.2 95.1h0.85M415.6 92.6h0.85M415.6 93.5h0.85M436.3 83.5h0.85M450.3 76.6h0.85M410.6 92.8h0.85M396.4 98.6h0.85M388.9 98.4h0.85M441.5 80.5h0.85M454.3 73.9h0.85M394.9 97.7h0.85M458.4 71.6h0.85M423.2 88.5h0.85M406.7 94.4h0.85M474.9 60.6h0.85M414.0 91.8h0.85M408.7 94.4h0.85M470.6 64.1h0.85M470.3 64.5h0.85M407.4 94.2h0.85M476.2 59.5h0.85M464.2 68.4h0.85M470.1 65.5h0.85M444.4 81.7h0.85M440.0 81.2h0.85M457.1 72.3h0.85M449.5 78.9h0.85M439.0 81.8h0.85M394.8 98.8h0.85M413.0 94.9h0.85M391.8 98.2h0.85M420.7 92.7h0.85M458.4 71.6h0.85M451.1 78.1h0.85M452.5 77.0h0.85M446.7 79.7h0.85M478.3 57.8h0.85M464.6 68.6h0.85M413.9 92.0h0.85M459.3 73.6h0.85M440.8 81.7h0.85M410.0 93.4h0.85M459.7 71.8h0.85M437.1 84.0h0.85M455.1 73.7h0.85M455.1 73.6h0.85M451.6 75.2h0.85M402.9 95.4h0.85M434.4 84.7h0.85M479.7 57.5h0.85M435.6 83.7h0.85M424.6 88.2h0.85M420.9 89.7h0.85M433.9 84.0h0.85M434.8 85.1h0.85M398.1 96.4h0.85M412.2 94.2h0.85M431.6 85.0h0.85M409.5 95.0h0.85M437.0 83.0h0.85M473.5 61.9h0.85M425.9 87.1h0.85M406.5 95.8h0.85M459.9 71.8h0.85M438.9 81.7h0.85M411.9 93.3h0.85M397.2 101.3h0.85M424.4 92.4h0.85M437.5 83.9h0.85M436.6 82.8h0.85M439.1 81.5h0.85M435.5 83.5h0.85M470.2 64.1h0.85M435.0 84.2h0.85M404.9 95.9h0.85M459.7 71.0h0.85M452.5 77.3h0.85M448.1 77.4h0.85M424.5 89.0h0.85M455.3 74.5h0.85M415.9 91.8h0.85M413.1 92.4h0.85M426.5 87.3h0.85M434.7 83.6h0.85M464.0 68.1h0.85M410.4 93.4h0.85M396.7 96.6h0.85M418.8 89.8h0.85M431.8 85.8h0.85M409.0 93.1h0.85M451.2 76.6h0.85M436.5 83.0h0.85M391.0 100.5h0.85M441.4 81.6h0.85M414.5 92.8h0.85M452.5 75.2h0.85M397.7 97.3h0.85M419.2 89.6h0.85M452.6 75.6h0.85M469.1 66.3h0.85M409.0 93.0h0.85M465.9 67.4h0.85M471.2 64.0h0.85M428.2 86.3h0.85M397.0 97.7h0.85M420.3 89.9h0.85M443.1 79.7h0.85M438.3 82.3h0.85M440.6 82.5h0.85M393.4 97.6h0.85M457.7 73.2h0.85M401.6 98.4h0.85M447.9 78.6h0.85M389.7 98.7h0.85M456.4 73.6h0.85M477.4 61.3h0.85M399.0 96.7h0.85M404.6 95.0h0.85M415.0 91.5h0.85M464.7 69.3h0.85M439.8 81.1h0.85M401.5 95.8h0.85M389.9 98.7h0.85M474.9 60.9h0.85M410.9 93.1h0.85M437.9 83.0h0.85M437.4 82.7h0.85M454.1 73.9h0.85M466.7 66.6h0.85M416.9 92.0h0.85M393.1 97.5h0.85M469.3 66.2h0.85M400.2 99.1h0.85M429.1 86.0h0.85M429.9 86.3h0.85M437.1 84.4h0.85M441.4 82.3h0.85M468.4 65.3h0.85M451.6 76.5h0.85M413.4 92.4h0.85M408.6 94.5h0.85M399.6 97.7h0.85M427.2 88.6h0.85M477.9 59.0h0.85M478.1 58.1h0.85M450.7 76.2h0.85M417.4 90.2h0.85M452.1 75.0h0.85M429.2 77.4h0.85M430.9 73.9h0.85M416.1 83.8h0.85M454.9 64.2h0.85M477.5 58.3h0.85M461.8 61.1h0.85M397.7 98.0h0.85M404.3 95.6h0.85M467.5 60.0h0.85M444.2 68.9h0.85M398.4 96.3h0.85M474.4 57.2h0.85M452.0 74.3h0.85M425.4 77.5h0.85M461.3 70.5h0.85M413.6 92.4h0.85M478.1 54.1h0.85M462.4 59.2h0.85M447.7 65.9h0.85M416.3 82.6h0.85M449.6 76.4h0.85M468.1 66.6h0.85M451.2 63.8h0.85M420.9 89.2h0.85M453.3 61.8h0.85M394.8 98.2h0.85M425.8 77.0h0.85M398.9 90.8h0.85M398.3 91.2h0.85M442.9 68.4h0.85M454.1 63.0h0.85M445.4 79.7h0.85M449.6 75.6h0.85M467.5 61.7h0.85M411.0 84.9h0.85M396.3 91.1h0.85M398.9 98.2h0.85M426.4 75.7h0.85M430.4 74.2h0.85M425.0 77.5h0.85M397.2 95.6h0.85M471.4 57.0h0.85M396.6 93.1h0.85M468.2 67.0h0.85M464.5 58.6h0.85M451.9 65.9h0.85M400.9 90.8h0.85M462.2 58.6h0.85M428.2 86.5h0.85M466.2 67.8h0.85M479.1 55.9h0.85M457.3 61.8h0.85M441.8 69.0h0.85M477.1 58.2h0.85M428.8 74.7h0.85M455.7 72.6h0.85M394.6 96.2h0.85M433.0 76.1h0.85M458.4 71.3h0.85M449.6 76.7h0.85M455.3 62.3h0.85M460.8 70.0h0.85M471.9 56.2h0.85M408.9 93.8h0.85M390.2 96.5h0.85M416.4 82.8h0.85M400.6 92.5h0.85M474.8 56.7h0.85M413.2 87.0h0.85M424.6 77.4h0.85M395.1 91.2h0.85M472.1 54.9h0.85M408.0 94.7h0.85M448.8 64.6h0.85M469.9 64.1h0.85M456.9 72.3h0.85M389.5 96.5h0.85M425.2 77.9h0.85M415.6 91.3h0.85M431.7 72.4h0.85M459.2 60.4h0.85M424.6 88.3h0.85M463.3 69.3h0.85M429.4 73.5h0.85M389.3 97.0h0.85M391.3 97.4h0.85M474.5 56.2h0.85M394.5 95.1h0.85M450.6 64.4h0.85M474.4 54.5h0.85M388.9 98.3h0.85M404.7 87.7h0.85M429.7 75.6h0.85M462.9 58.9h0.85M452.2 76.3h0.85M444.4 68.4h0.85M402.4 95.9h0.85M451.2 64.3h0.85M459.6 70.9h0.85M413.7 83.4h0.85M479.4 52.4h0.85M388.7 98.7h0.85M456.9 61.3h0.85M455.8 73.6h0.85M411.6 92.8h0.85M452.0 62.4h0.85M401.0 95.3h0.85M432.1 74.4h0.85M449.7 65.0h0.85M401.8 88.2h0.85M416.9 82.9h0.85M402.1 90.6h0.85M457.6 70.4h0.85M405.9 88.5h0.85M455.3 62.4h0.85M476.4 59.4h0.85M389.3 98.4h0.85M470.3 57.5h0.85M468.6 59.1h0.85M397.9 97.4h0.85M454.4 63.6h0.85M390.9 98.5h0.85M435.1 71.7h0.85M407.5 93.2h0.85M408.6 86.2h0.85M433.3 83.9h0.85M435.1 82.2h0.85M400.4 91.1h0.85M392.1 93.4h0.85M443.0 68.1h0.85M462.9 69.1h0.85M469.1 58.1h0.85M417.0 82.9h0.85M461.6 60.0h0.85M409.3 85.6h0.85M391.9 95.0h0.85M467.4 60.2h0.85M410.5 85.0h0.85M448.5 77.1h0.85M445.1 65.5h0.85M413.8 84.6h0.85M453.0 64.4h0.85M408.1 94.1h0.85M414.1 84.5h0.85M390.0 98.1h0.85M436.1 71.5h0.85M399.8 95.8h0.85M404.2 88.8h0.85M405.2 88.3h0.85M441.8 81.3h0.85M400.0 96.7h0.85M390.6 98.0h0.85M368.9 104.9h0.85M345.6 117.7h0.85M396.0 94.0h0.85M397.9 91.4h0.85M399.7 97.0h0.85M376.8 102.7h0.85M394.1 97.3h0.85M377.0 100.4h0.85M363.2 106.9h0.85M378.6 103.1h0.85M373.4 104.5h0.85M397.6 91.5h0.85M392.5 98.5h0.85M393.4 103.1h0.85M341.4 116.7h0.85M396.2 91.4h0.85M397.8 99.2h0.85M393.6 97.9h0.85M348.0 110.6h0.85M369.8 108.7h0.85M379.7 97.9h0.85M374.0 110.1h0.85M365.8 105.3h0.85M396.8 97.7h0.85M392.4 91.2h0.85M393.9 89.8h0.85M366.6 110.4h0.85M376.4 94.4h0.85M389.3 96.9h0.85M391.7 102.8h0.85M390.7 97.6h0.85M388.5 97.8h0.85M383.9 98.4h0.85M392.0 96.7h0.85M395.5 90.2h0.85M363.2 110.1h0.85M372.6 104.4h0.85M397.9 99.6h0.85M377.8 99.3h0.85M376.0 101.3h0.85M385.7 99.9h0.85M353.1 112.6h0.85M358.3 113.6h0.85M385.5 105.0h0.85M367.6 108.1h0.85M395.7 95.5h0.85M386.6 99.0h0.85M376.9 107.4h0.85M365.8 110.7h0.85M382.9 102.0h0.85M386.5 103.4h0.85M376.2 105.8h0.85M400.6 94.1h0.85M369.1 104.5h0.85M373.5 102.8h0.85M394.6 90.5h0.85M394.5 99.9h0.85M350.7 117.5h0.85M388.2 107.3h0.85M388.8 99.5h0.85M364.6 103.5h0.85M385.6 101.3h0.85M375.0 102.1h0.85M377.4 94.9h0.85M388.3 93.0h0.85M392.3 99.7h0.85M378.4 98.0h0.85M380.8 105.2h0.85M378.9 102.8h0.85M377.1 97.8h0.85M390.9 92.5h0.85M393.5 95.1h0.85M382.8 98.2h0.85M359.6 112.3h0.85M392.5 100.1h0.85M370.3 107.9h0.85M395.6 98.6h0.85M398.2 96.3h0.85M345.4 114.8h0.85M381.3 96.7h0.85M393.5 92.6h0.85M396.3 98.8h0.85M374.3 103.3h0.85M379.7 102.7h0.85M390.4 97.7h0.85M351.8 110.0h0.85M398.4 105.7h0.85M373.2 103.3h0.85M362.3 110.0h0.85M401.5 91.3h0.85M376.9 102.0h0.85M377.7 102.4h0.85M385.6 91.8h0.85M393.4 86.0h0.85M379.9 108.8h0.85M347.7 118.0h0.85M387.5 99.9h0.85M385.6 103.5h0.85M343.2 113.7h0.85M334.6 116.7h0.85M391.4 100.9h0.85M371.9 108.8h0.85M365.3 105.0h0.85M379.2 101.1h0.85M399.6 94.2h0.85M391.6 97.2h0.85M373.0 104.1h0.85M390.8 101.0h0.85M373.5 107.9h0.85M365.5 113.5h0.85M370.9 101.2h0.85M378.7 99.4h0.85M374.5 103.1h0.85M398.1 99.0h0.85M399.7 88.4h0.85M360.3 105.4h0.85M367.0 103.4h0.85M401.2 96.9h0.85M374.6 103.7h0.85M344.3 112.7h0.85M388.5 96.6h0.85M364.6 106.3h0.85M366.2 107.5h0.85M387.7 104.6h0.85M375.3 99.3h0.85M357.2 107.5h0.85M386.0 99.8h0.85M373.1 105.5h0.85M343.1 116.9h0.85M374.9 106.2h0.85M360.2 113.5h0.85M378.8 104.5h0.85M367.3 112.8h0.85M394.3 96.1h0.85M362.0 108.8h0.85M386.5 91.6h0.85M361.5 105.5h0.85M353.9 113.3h0.85M362.9 107.8h0.85M360.1 113.9h0.85M369.1 102.7h0.85M376.5 101.9h0.85M387.5 100.1h0.85M391.0 96.0h0.85M379.8 97.1h0.85M367.2 108.3h0.85M352.1 109.2h0.85M350.7 110.2h0.85M343.5 118.1h0.85M397.3 91.0h0.85M402.0 92.6h0.85M400.5 94.5h0.85M371.3 98.9h0.85M387.4 97.6h0.85M347.1 113.6h0.85M367.8 111.1h0.85M341.3 121.5h0.85M375.2 108.9h0.85M367.2 107.6h0.85M390.3 96.9h0.85M370.5 106.2h0.85M396.9 93.4h0.85M355.2 114.2h0.85M390.3 99.8h0.85M389.1 100.7h0.85M389.7 97.9h0.85M401.7 91.1h0.85M383.3 99.2h0.85M383.8 99.9h0.85M357.1 113.3h0.85M397.8 93.4h0.85M383.3 104.6h0.85M374.3 106.9h0.85M367.2 106.4h0.85M365.3 108.8h0.85M383.0 98.6h0.85M386.7 88.8h0.85M391.4 100.9h0.85M365.5 108.0h0.85M401.7 95.6h0.85M389.4 102.5h0.85M395.9 94.1h0.85M352.1 113.4h0.85M393.2 95.8h0.85M398.6 90.3h0.85M374.1 108.8h0.85M337.1 119.3h0.85M375.7 103.7h0.85M379.6 102.5h0.85M358.8 108.4h0.85M345.9 118.0h0.85M387.3 97.2h0.85M385.3 100.4h0.85M399.3 90.0h0.85M397.5 90.8h0.85M389.8 92.2h0.85M350.2 113.6h0.85M399.3 97.8h0.85M354.3 105.9h0.85M354.4 115.0h0.85M342.3 118.5h0.85M399.4 97.5h0.85M395.7 101.2h0.85M387.4 101.1h0.85M395.8 98.4h0.85M371.3 110.5h0.85M373.1 106.3h0.85M367.9 102.8h0.85M398.4 90.5h0.85M399.3 98.9h0.85M342.4 120.5h0.85M389.8 86.9h0.85M369.8 104.4h0.85M384.4 106.1h0.85M394.4 100.4h0.85M368.2 106.0h0.85M384.8 106.0h0.85M397.7 90.6h0.85M399.4 88.2h0.85M390.3 93.0h0.85M372.5 105.3h0.85M373.1 109.2h0.85M375.7 103.7h0.85M389.0 98.1h0.85M393.4 104.1h0.85M389.4 94.2h0.85M395.8 99.4h0.85M376.7 101.5h0.85M379.9 102.2h0.85M387.8 98.0h0.85M383.9 102.3h0.85M356.5 107.8h0.85M387.0 96.5h0.85M373.5 105.0h0.85M401.1 92.6h0.85M398.8 94.5h0.85M361.6 107.4h0.85M397.5 94.9h0.85M341.8 119.9h0.85M380.4 102.8h0.85M394.6 97.3h0.85M372.0 98.6h0.85M395.8 98.8h0.85M397.5 92.7h0.85M379.7 95.7h0.85M378.9 103.4h0.85M347.4 114.3h0.85M392.5 101.3h0.85M398.4 93.2h0.85M353.9 112.0h0.85M390.0 100.6h0.85M358.1 106.6h0.85M398.8 91.5h0.85M396.7 99.6h0.85M374.9 110.4h0.85M366.4 107.8h0.85M392.6 96.4h0.85M380.7 106.0h0.85M389.7 97.2h0.85M393.2 96.4h0.85M377.0 102.7h0.85M382.6 104.1h0.85M353.1 109.8h0.85M375.5 103.0h0.85M381.3 102.0h0.85M399.9 96.3h0.85M368.0 104.5h0.85M398.2 88.9h0.85M383.3 100.4h0.85M357.5 104.9h0.85M401.9 93.3h0.85M345.0 117.4h0.85M368.3 107.6h0.85M381.6 100.1h0.85M386.3 90.5h0.85M386.3 97.1h0.85M376.1 107.7h0.85M375.2 104.7h0.85M358.8 106.3h0.85M369.2 105.4h0.85M360.9 106.3h0.85M387.8 100.5h0.85M370.4 100.3h0.85M384.2 96.0h0.85M384.4 98.3h0.85M355.5 108.2h0.85M395.2 94.9h0.85M391.5 97.2h0.85M384.5 103.4h0.85M385.7 96.5h0.85M379.3 100.4h0.85M379.2 101.5h0.85M392.5 89.9h0.85M398.1 98.3h0.85M385.2 100.4h0.85M377.2 97.7h0.85M386.5 98.0h0.85M381.5 104.1h0.85M370.3 102.7h0.85M377.9 99.5h0.85M374.5 99.8h0.85M389.1 95.3h0.85M390.8 101.1h0.85M337.2 118.8h0.85M378.6 99.5h0.85M396.0 92.7h0.85M345.2 112.7h0.85M363.6 105.3h0.85M376.9 101.3h0.85M395.2 96.9h0.85M399.3 89.3h0.85M361.8 109.3h0.85M349.2 116.5h0.85M352.1 111.9h0.85M393.4 100.4h0.85M401.9 99.8h0.85M346.6 110.8h0.85M369.3 102.5h0.85M396.1 93.3h0.85M395.0 94.0h0.85M400.4 94.0h0.85M392.2 97.0h0.85M380.7 104.1h0.85M398.2 93.1h0.85M379.3 102.1h0.85M401.2 95.2h0.85M392.2 91.9h0.85M395.4 95.8h0.85M343.4 115.0h0.85M349.0 114.7h0.85M394.8 89.1h0.85M370.5 101.2h0.85M380.6 98.9h0.85M394.7 86.4h0.85M389.8 93.6h0.85M380.7 103.3h0.85M353.6 112.5h0.85M370.8 102.9h0.85M400.5 93.1h0.85M385.1 107.2h0.85M389.9 94.9h0.85M400.7 86.6h0.85M356.6 111.1h0.85M385.1 103.9h0.85M353.1 111.8h0.85M363.4 103.7h0.85M377.5 96.6h0.85M357.7 106.5h0.85M364.7 114.8h0.85M389.3 100.3h0.85M368.7 98.8h0.85M358.3 107.4h0.85M381.5 96.8h0.85M380.1 99.9h0.85M348.0 120.5h0.85M377.2 101.1h0.85M347.4 111.9h0.85M389.6 100.8h0.85M397.7 87.0h0.85M375.6 108.1h0.85M380.7 97.9h0.85M383.5 91.3h0.85M370.7 105.1h0.85M382.2 104.9h0.85M394.8 96.6h0.85M375.4 106.4h0.85M389.0 96.8h0.85M392.9 88.1h0.85M364.8 105.5h0.85M359.9 108.8h0.85M375.3 103.1h0.85M390.2 96.8h0.85M377.9 101.0h0.85M339.6 119.9h0.85M399.8 95.3h0.85M398.2 94.6h0.85M365.1 106.8h0.85M401.4 95.9h0.85M399.7 96.5h0.85M372.7 109.9h0.85M376.3 100.0h0.85M367.3 98.7h0.85M396.5 97.1h0.85M398.4 91.0h0.85M372.9 108.3h0.85M396.6 95.4h0.85M376.9 109.5h0.85M339.1 115.2h0.85M364.7 111.5h0.85M399.1 88.6h0.85M369.1 107.3h0.85M361.8 106.8h0.85M377.4 108.6h0.85M396.1 93.6h0.85M374.7 98.7h0.85M392.3 97.8h0.85M386.6 98.3h0.85M401.9 95.7h0.85M476.9 56.5h0.85M479.9 53.8h0.85M473.7 60.0h0.85M474.6 57.8h0.85M477.7 49.8h0.85M473.2 53.4h0.85M480.0 52.4h0.85M474.1 55.2h0.85M478.6 53.6h0.85M481.2 53.6h0.85M474.4 60.6h0.85M481.2 55.1h0.85M482.7 50.4h0.85M477.7 55.3h0.85M474.0 58.2h0.85M476.3 59.1h0.85M482.8 56.7h0.85M473.0 56.2h0.85M482.8 54.4h0.85M473.7 60.1h0.85M478.9 57.1h0.85M474.9 57.4h0.85M483.0 49.0h0.85M475.7 54.6h0.85M477.0 52.0h0.85M476.1 58.6h0.85M478.7 61.1h0.85M474.2 52.4h0.85M473.2 52.9h0.85M477.3 52.6h0.85M476.6 59.3h0.85M474.8 57.4h0.85M478.1 58.4h0.85M473.4 51.2h0.85M482.5 54.1h0.85M481.8 49.5h0.85M483.0 50.3h0.85M474.4 51.6h0.85M480.0 55.9h0.85M473.3 53.7h0.85M474.0 59.1h0.85M481.8 53.7h0.85M477.1 58.9h0.85M481.4 55.1h0.85M479.4 49.5h0.85M473.1 59.0h0.85M482.6 54.5h0.85M473.8 57.3h0.85M480.7 52.5h0.85M477.6 53.7h0.85M475.0 57.5h0.85M480.1 56.2h0.85M480.4 46.7h0.85M473.5 56.6h0.85M482.8 48.8h0.85M482.9 50.8h0.85M480.3 54.2h0.85M480.2 51.3h0.85M474.7 54.0h0.85M482.0 54.6h0.85M482.8 49.6h0.85M478.2 52.3h0.85M476.9 54.0h0.85M479.2 55.4h0.85M476.8 56.1h0.85M477.6 56.5h0.85M478.6 54.7h0.85M475.4 56.7h0.85M476.5 55.9h0.85M478.1 56.3h0.85M478.6 54.6h0.85M482.8 50.5h0.85M478.8 52.1h0.85M482.1 51.2h0.85M479.0 50.9h0.85M479.4 53.0h0.85M477.3 55.9h0.85M480.9 53.4h0.85M480.4 59.3h0.85M480.1 52.8h0.85M478.5 53.5h0.85M474.6 56.5h0.85M475.5 55.6h0.85M477.5 55.1h0.85M474.2 55.9h0.85M474.2 53.9h0.85M476.6 58.0h0.85M481.1 53.1h0.85" stroke="#bdbdbd" stroke-width="0.85" fill="none"/>
<circle cx="454.9" cy="22.7" r="1.7" fill="#e070c0"/>
<circle cx="437" cy="32.5" r="1.7" fill="#7090d0"/>
<circle cx="452.9" cy="28.1" r="1.7" fill="#f0a050"/>
<circle cx="420.5" cy="43.5" r="1.7" fill="#2e8b57"/>
<circle cx="451.8" cy="31.6" r="1.7" fill="#333333"/>
<circle cx="440" cy="51.3" r="1.7" fill="#a6d84a"/>
<circle cx="408.7" cy="66.5" r="1.7" fill="#40a030"/>
<circle cx="418.6" cy="66.5" r="1.7" fill="#c8e8b8"/>
<circle cx="447.1" cy="50.7" r="1.7" fill="#d080d0"/>
<circle cx="419.9" cy="53.8" r="1.7" fill="#2060b0"/>
<circle cx="459.6" cy="38.8" r="1.7" fill="#f5f060"/>
<circle cx="458.3" cy="51.1" r="1.7" fill="#e01070"/>
<circle cx="452.5" cy="54" r="1.7" fill="#f0b080"/>
<circle cx="427.6" cy="63" r="1.7" fill="#e0c8a0"/>
<circle cx="451.1" cy="53.4" r="1.7" fill="#e07050"/>
<circle cx="440" cy="54.7" r="1.7" fill="#c0e8b0"/>
<circle cx="411.4" cy="72.6" r="1.7" fill="#80a8e0"/>
<circle cx="448.7" cy="54.4" r="1.7" fill="#2050b0"/>
<circle cx="440" cy="58.5" r="1.7" fill="#d05a10"/>
<circle cx="432.6" cy="60.8" r="1.7" fill="#e0107a"/>
<text x="7.2" y="197.8" font-size="12.1" fill="#000" font-weight="bold" stroke="#000" stroke-width="0.6">B</text>
<rect x="177.5" y="223.10" width="109.32" height="12.6" fill="#c987b5"/>
<line x1="174.3" y1="229.5" x2="177.5" y2="229.5" stroke="#111" stroke-width="1.1"/>
<text x="170.6" y="232.3" font-size="8.0" text-anchor="end" fill="#1a1a1a" textLength="144.3" lengthAdjust="spacingAndGlyphs" stroke="#1a1a1a" stroke-width="0.18">Epigenetic regulation of gene expression</text>
<rect x="177.5" y="243.03" width="109.32" height="12.6" fill="#c987b5"/>
<line x1="174.3" y1="249.43" x2="177.5" y2="249.43" stroke="#111" stroke-width="1.1"/>
<text x="170.6" y="252.23" font-size="8.0" text-anchor="end" fill="#1a1a1a" textLength="82.3" lengthAdjust="spacingAndGlyphs" stroke="#1a1a1a" stroke-width="0.18">Chromatin organization</text>
<rect x="177.5" y="262.96" width="109.32" height="12.6" fill="#c987b5"/>
<line x1="174.3" y1="269.36" x2="177.5" y2="269.36" stroke="#111" stroke-width="1.1"/>
<text x="170.6" y="272.16" font-size="8.0" text-anchor="end" fill="#1a1a1a" textLength="105.7" lengthAdjust="spacingAndGlyphs" stroke="#1a1a1a" stroke-width="0.18">Chromatin modifying enzymes</text>
<rect x="177.5" y="282.89" width="75.02" height="12.6" fill="#c987b5"/>
<line x1="174.3" y1="289.29" x2="177.5" y2="289.29" stroke="#111" stroke-width="1.1"/>
<text x="170.6" y="292.09" font-size="8.0" text-anchor="end" fill="#1a1a1a" textLength="162.8" lengthAdjust="spacingAndGlyphs" stroke="#1a1a1a" stroke-width="0.18">Activation of HOX genes during differentiation</text>
<line x1="177.5" y1="217" x2="177.5" y2="302.5" stroke="#111" stroke-width="1.4"/>
<line x1="176.85" y1="302.5" x2="308.5" y2="302.5" stroke="#111" stroke-width="1.4"/>
<line x1="177.5" y1="302.5" x2="177.5" y2="305.2" stroke="#111" stroke-width="1.1"/>
<text x="177.5" y="315.4" font-size="8.2" text-anchor="middle" fill="#1a1a1a" stroke="#1a1a1a" stroke-width="0.18">0</text>
<line x1="220.37" y1="302.5" x2="220.37" y2="305.2" stroke="#111" stroke-width="1.1"/>
<text x="220.37" y="315.4" font-size="8.2" text-anchor="middle" fill="#1a1a1a" stroke="#1a1a1a" stroke-width="0.18">1</text>
<line x1="263.24" y1="302.5" x2="263.24" y2="305.2" stroke="#111" stroke-width="1.1"/>
<text x="263.24" y="315.4" font-size="8.2" text-anchor="middle" fill="#1a1a1a" stroke="#1a1a1a" stroke-width="0.18">2</text>
<line x1="306.11" y1="302.5" x2="306.11" y2="305.2" stroke="#111" stroke-width="1.1"/>
<text x="306.11" y="315.4" font-size="8.2" text-anchor="middle" fill="#1a1a1a" stroke="#1a1a1a" stroke-width="0.18">3</text>
<text x="243.2" y="329.3" font-size="9.8" text-anchor="middle" fill="#1a1a1a" font-weight="bold" textLength="64.5" lengthAdjust="spacingAndGlyphs">-LOG10 (Adj P-value)</text>
<text x="325.5" y="197.6" font-size="12.1" fill="#000" font-weight="bold" stroke="#000" stroke-width="0.6">C</text>
<polygon points="378.7,297.5 383.8,292.8 391.6,287.3 399.4,282.7 407.2,278.5 415,273.3 424.7,267 434.6,261.5 444.6,257.5 452,255.6 455.5,255.2 455.5,256.8 452,258.5 444.6,265.6 434.6,273.6 424.7,279.5 415,285.8 407.2,288.9 399.4,292 391.6,295.2 383.8,297.5 379,298.8" fill="#bebebe"/>
<path d="M445.1 256.2h0.85M444.4 250.8h0.85M441.0 258.0h0.85M398.8 277.2h0.85M384.6 290.8h0.85M451.4 253.7h0.85M425.8 264.0h0.85M378.9 297.2h0.85M448.6 251.4h0.85M454.3 251.7h0.85M400.7 281.3h0.85M441.2 259.0h0.85M385.0 291.2h0.85M412.4 273.1h0.85M441.5 248.9h0.85M410.1 274.6h0.85M418.5 261.7h0.85M387.7 286.6h0.85M441.2 258.7h0.85M416.9 267.1h0.85M397.8 282.0h0.85M438.3 254.7h0.85M453.9 251.0h0.85M420.0 257.2h0.85M435.3 239.5h0.85M454.9 254.6h0.85M381.0 295.4h0.85M424.7 264.5h0.85M453.0 255.3h0.85M387.7 289.9h0.85M395.8 278.0h0.85M421.0 265.6h0.85M434.2 251.2h0.85M421.2 268.2h0.85M420.8 267.8h0.85M382.7 293.0h0.85M435.5 250.7h0.85M403.3 275.6h0.85M384.4 290.4h0.85M452.3 255.1h0.85M429.4 237.5h0.85M413.7 273.0h0.85M435.0 250.7h0.85M415.4 261.6h0.85M388.3 289.6h0.85M425.1 267.0h0.85M436.1 254.6h0.85M435.9 259.9h0.85M421.1 267.8h0.85M450.0 249.5h0.85M451.3 249.4h0.85M445.9 256.5h0.85M407.2 277.5h0.85M399.3 268.7h0.85M419.4 270.1h0.85M429.0 255.8h0.85M391.0 285.5h0.85M421.7 254.7h0.85M412.4 273.7h0.85M378.8 297.2h0.85M410.9 271.8h0.85M409.4 271.3h0.85M452.7 252.0h0.85M382.9 292.6h0.85M450.0 251.2h0.85M448.5 256.1h0.85M424.8 263.7h0.85M393.1 286.7h0.85M439.5 257.0h0.85M391.1 287.7h0.85M403.3 271.5h0.85M429.9 262.0h0.85M411.4 266.5h0.85M414.1 273.1h0.85M402.0 281.4h0.85M381.6 293.6h0.85M406.4 273.0h0.85M442.2 257.0h0.85M442.5 258.3h0.85M384.9 290.0h0.85M421.2 257.4h0.85M405.9 277.8h0.85M409.3 276.8h0.85M454.6 254.0h0.85M440.8 237.0h0.85M417.6 271.1h0.85M417.7 271.0h0.85M449.1 246.6h0.85M407.5 278.0h0.85M438.8 259.7h0.85M434.7 257.3h0.85M435.3 255.7h0.85M413.7 274.3h0.85M431.3 263.0h0.85M443.0 249.2h0.85M401.4 281.9h0.85M437.3 243.6h0.85M415.7 273.1h0.85M419.7 263.0h0.85M414.4 273.6h0.85M407.5 271.1h0.85M436.5 255.8h0.85M408.8 276.2h0.85M392.6 286.9h0.85M439.2 251.8h0.85M409.4 274.4h0.85M423.2 266.3h0.85M454.1 249.6h0.85M428.4 259.0h0.85M419.0 270.3h0.85M400.5 280.2h0.85M433.2 259.8h0.85M452.5 254.8h0.85M433.1 251.4h0.85M437.8 259.1h0.85M403.1 279.3h0.85M402.8 277.6h0.85M406.2 276.8h0.85M415.5 272.9h0.85M447.3 257.0h0.85M414.5 253.4h0.85M392.2 285.8h0.85M419.6 248.2h0.85M398.6 280.1h0.85M427.5 261.9h0.85M404.7 268.7h0.85M451.8 253.1h0.85M412.3 258.8h0.85M423.4 264.7h0.85M423.6 253.0h0.85M410.5 270.5h0.85M453.8 254.2h0.85M382.0 293.9h0.85M435.8 240.2h0.85M399.0 280.4h0.85M383.4 291.8h0.85M392.5 286.7h0.85M436.4 254.0h0.85M448.5 229.2h0.85M438.3 239.6h0.85M400.6 272.2h0.85M416.8 269.2h0.85M387.8 288.5h0.85M410.9 274.5h0.85M398.5 281.5h0.85M381.1 294.0h0.85M401.1 279.1h0.85M450.0 231.2h0.85M419.5 267.9h0.85M399.7 274.2h0.85M387.5 288.9h0.85M447.7 255.6h0.85M385.7 291.6h0.85M381.6 294.4h0.85M387.3 288.3h0.85M436.5 259.2h0.85M450.4 254.8h0.85M386.0 291.2h0.85M427.7 265.3h0.85M428.8 259.8h0.85M419.1 263.8h0.85M379.0 297.4h0.85M431.9 253.3h0.85M411.7 274.7h0.85M450.3 253.3h0.85M455.3 255.2h0.85M427.6 258.9h0.85M387.6 290.3h0.85M403.1 277.0h0.85M427.1 262.0h0.85M445.6 247.4h0.85M411.0 276.0h0.85M406.4 271.9h0.85M425.3 264.9h0.85M444.4 249.2h0.85M393.7 282.1h0.85M424.4 263.5h0.85M426.0 260.8h0.85M415.2 273.2h0.85M406.4 267.4h0.85M451.5 253.7h0.85M441.4 259.0h0.85M390.6 285.7h0.85M378.8 297.6h0.85M398.5 281.8h0.85M411.2 273.3h0.85M391.2 287.4h0.85M404.6 270.2h0.85M431.0 253.5h0.85M435.5 249.7h0.85M441.6 232.4h0.85M441.2 247.3h0.85M403.5 272.1h0.85M419.6 257.0h0.85M435.4 261.4h0.85M425.7 257.1h0.85M423.2 267.2h0.85M441.1 247.6h0.85M451.3 249.9h0.85M447.6 256.0h0.85M399.5 281.3h0.85M387.9 289.7h0.85M400.9 270.3h0.85M440.2 256.2h0.85M403.0 280.7h0.85M435.8 254.3h0.85M424.2 261.1h0.85M455.0 252.1h0.85M387.8 290.2h0.85M442.3 256.6h0.85M382.3 294.1h0.85M427.8 263.7h0.85M420.0 269.2h0.85M397.5 282.9h0.85M398.9 280.8h0.85M408.4 277.0h0.85M415.9 272.0h0.85M390.8 287.6h0.85M412.5 263.7h0.85M385.5 286.5h0.85M417.0 259.8h0.85M420.2 264.9h0.85M408.5 277.3h0.85M416.6 265.6h0.85M422.4 260.5h0.85M418.7 267.4h0.85M392.6 286.3h0.85M395.6 282.8h0.85M399.1 282.1h0.85M455.5 255.0h0.85M417.2 252.2h0.85M433.0 261.3h0.85M394.3 281.5h0.85M418.7 267.9h0.85M412.3 274.2h0.85M394.2 283.5h0.85M395.6 283.8h0.85M397.2 278.6h0.85M435.4 249.5h0.85M435.8 243.1h0.85M445.3 256.4h0.85M404.6 275.2h0.85M418.5 264.3h0.85M434.5 250.5h0.85M421.8 257.2h0.85M444.8 239.6h0.85M380.4 294.5h0.85M432.2 256.1h0.85M388.8 286.7h0.85M418.3 269.1h0.85M408.8 263.7h0.85M413.4 273.7h0.85M437.7 254.0h0.85M385.7 288.0h0.85M382.5 292.3h0.85M450.7 249.7h0.85M416.0 270.5h0.85M410.3 272.8h0.85M390.4 285.3h0.85M417.3 266.5h0.85M429.9 260.9h0.85M447.4 254.3h0.85M408.7 273.1h0.85M388.6 287.7h0.85M436.8 245.4h0.85M402.1 281.5h0.85M433.6 256.1h0.85M440.2 239.8h0.85M452.7 255.3h0.85M391.8 285.3h0.85M398.9 282.1h0.85M408.5 274.4h0.85M441.5 258.9h0.85M412.2 267.7h0.85M412.1 266.4h0.85M443.1 254.4h0.85M387.9 288.6h0.85M387.1 283.9h0.85M385.7 289.9h0.85M417.9 258.2h0.85M394.9 285.6h0.85M406.3 277.0h0.85M416.6 271.0h0.85M419.4 267.0h0.85M408.8 271.0h0.85M389.3 287.2h0.85M441.5 252.3h0.85M445.2 253.1h0.85M422.1 264.0h0.85M400.8 278.8h0.85M455.5 254.3h0.85M387.9 288.2h0.85M446.4 251.5h0.85M426.9 264.0h0.85M398.6 282.0h0.85M424.1 264.9h0.85M421.1 260.9h0.85M379.5 293.3h0.85M414.5 273.5h0.85M438.2 258.7h0.85M427.5 265.1h0.85M388.7 288.9h0.85M394.9 285.1h0.85M432.1 262.4h0.85M380.8 293.8h0.85M431.8 253.0h0.85M419.7 261.9h0.85M408.2 275.5h0.85M411.0 270.5h0.85M415.4 272.0h0.85M386.3 287.0h0.85M449.9 247.2h0.85M411.0 271.0h0.85M429.6 259.1h0.85M386.7 287.6h0.85M446.2 250.7h0.85M432.2 251.0h0.85M398.2 283.2h0.85M448.1 254.5h0.85M446.1 255.9h0.85M414.2 265.5h0.85M400.1 280.4h0.85M442.1 257.0h0.85M379.0 297.1h0.85M451.8 253.4h0.85M452.7 255.6h0.85M385.0 291.1h0.85M451.1 256.1h0.85M400.5 265.3h0.85M441.1 254.2h0.85M445.1 255.2h0.85M392.4 285.0h0.85M405.0 268.3h0.85M452.2 253.4h0.85M438.9 256.9h0.85M432.6 261.9h0.85M396.7 281.6h0.85M435.0 259.6h0.85M381.7 294.2h0.85M399.0 283.1h0.85M397.8 272.1h0.85M383.1 293.8h0.85M414.7 273.2h0.85M381.3 293.8h0.85M454.3 255.5h0.85M416.2 261.3h0.85M438.1 259.0h0.85M419.4 265.0h0.85M388.2 289.9h0.85M413.4 266.6h0.85M379.3 297.0h0.85M401.7 268.7h0.85M427.5 256.2h0.85M392.5 285.5h0.85M449.1 256.3h0.85M427.4 260.4h0.85M380.7 295.2h0.85M411.7 272.3h0.85M447.5 254.7h0.85M398.4 279.1h0.85M387.9 289.8h0.85M399.9 282.1h0.85M415.9 272.5h0.85M408.9 276.9h0.85M397.4 283.9h0.85M414.4 265.9h0.85M415.9 266.0h0.85M432.4 239.7h0.85M455.3 255.3h0.85M427.4 255.0h0.85M384.7 291.7h0.85M390.3 288.4h0.85M401.7 280.2h0.85M450.9 255.3h0.85M383.6 293.0h0.85M428.7 258.6h0.85M409.8 275.2h0.85M397.5 274.3h0.85M428.0 263.7h0.85M436.8 254.1h0.85M437.9 254.9h0.85M395.3 283.1h0.85M393.5 284.2h0.85M393.4 282.0h0.85M395.8 282.5h0.85M395.3 282.7h0.85M418.8 269.7h0.85M403.0 279.0h0.85M426.3 260.5h0.85M453.3 250.0h0.85M439.5 255.5h0.85M385.6 290.8h0.85M451.3 255.4h0.85M408.5 275.9h0.85M392.3 280.6h0.85M397.5 283.4h0.85M383.0 292.0h0.85M400.4 280.2h0.85M414.7 269.1h0.85M386.8 290.7h0.85M452.9 255.4h0.85M411.5 275.6h0.85M420.0 240.0h0.85M403.1 279.2h0.85M448.2 254.1h0.85M444.5 256.0h0.85M415.8 266.3h0.85M378.8 296.7h0.85M429.3 264.4h0.85M404.4 275.9h0.85M389.4 288.5h0.85M414.3 269.9h0.85M434.7 257.3h0.85M429.5 253.6h0.85M386.2 289.9h0.85M448.9 242.2h0.85M415.7 271.9h0.85M448.4 256.3h0.85M410.9 268.9h0.85M448.4 254.7h0.85M443.4 224.6h0.85M381.6 291.0h0.85M446.8 251.2h0.85M431.0 260.3h0.85M423.3 266.6h0.85M378.9 296.4h0.85M427.2 253.3h0.85M428.0 252.8h0.85M445.2 252.2h0.85M408.9 277.5h0.85M383.5 291.3h0.85M435.3 253.0h0.85M406.9 278.9h0.85M403.9 276.7h0.85M430.3 249.3h0.85M381.8 294.8h0.85M381.1 294.9h0.85M453.6 251.7h0.85M445.6 256.9h0.85M440.1 255.3h0.85M415.8 256.8h0.85M408.5 262.1h0.85M392.8 284.5h0.85M381.2 295.4h0.85M439.8 257.8h0.85M398.2 276.5h0.85M436.3 258.6h0.85M383.3 292.0h0.85M397.5 281.7h0.85M411.6 269.8h0.85M407.6 271.2h0.85M394.6 280.8h0.85M438.3 256.9h0.85M384.1 288.7h0.85M425.7 264.7h0.85M421.9 268.3h0.85M418.8 262.9h0.85M392.6 285.1h0.85M428.6 259.5h0.85M433.8 251.1h0.85M422.2 268.7h0.85M423.3 261.6h0.85M420.6 268.7h0.85M412.0 252.3h0.85M423.0 267.7h0.85M418.3 254.0h0.85M400.6 276.7h0.85M443.7 252.9h0.85M404.9 276.3h0.85M386.4 288.6h0.85M426.8 260.5h0.85M444.5 201.1h0.85M387.4 288.3h0.85M380.9 295.6h0.85M403.2 279.4h0.85M399.6 277.1h0.85M390.6 283.2h0.85M400.0 280.1h0.85M411.3 274.5h0.85M395.8 282.2h0.85M419.5 265.6h0.85M410.1 273.1h0.85M409.0 277.3h0.85M387.2 289.5h0.85M436.7 259.1h0.85M426.3 242.6h0.85M421.4 229.3h0.85M402.6 280.0h0.85M455.3 255.2h0.85M435.0 259.4h0.85M442.6 254.8h0.85M421.6 262.3h0.85M426.2 260.0h0.85M431.8 261.1h0.85M400.3 279.5h0.85M398.3 282.1h0.85M437.6 251.2h0.85M402.9 272.4h0.85M380.8 295.6h0.85M414.1 272.8h0.85M444.9 243.1h0.85M411.2 275.9h0.85M421.9 267.7h0.85M447.9 249.2h0.85M390.3 286.9h0.85M392.9 285.7h0.85M380.1 295.4h0.85M406.0 278.2h0.85M388.6 288.6h0.85M422.7 268.3h0.85M404.3 277.2h0.85M385.6 291.0h0.85M434.6 257.4h0.85M436.8 256.5h0.85M448.5 244.7h0.85M406.0 275.3h0.85M420.5 267.4h0.85M427.8 257.6h0.85M446.0 256.4h0.85M451.2 253.6h0.85M404.4 279.7h0.85M395.3 282.3h0.85M399.9 276.5h0.85M398.8 283.1h0.85M438.2 248.1h0.85M426.5 263.9h0.85M387.9 288.9h0.85M426.8 260.6h0.85M429.5 256.7h0.85M416.6 272.6h0.85M435.2 254.0h0.85M384.2 285.3h0.85M431.7 256.7h0.85M383.1 292.9h0.85M444.4 256.0h0.85M419.7 263.7h0.85M443.4 251.7h0.85M389.9 285.2h0.85M394.1 283.8h0.85M442.8 249.6h0.85M385.6 290.5h0.85M403.4 278.7h0.85M438.7 257.8h0.85M444.4 255.9h0.85M389.4 288.9h0.85M383.7 293.2h0.85M427.0 263.5h0.85M395.6 279.8h0.85M401.4 281.5h0.85M382.8 293.6h0.85M405.9 274.1h0.85M441.1 256.8h0.85M423.0 252.9h0.85M381.0 294.8h0.85M384.4 292.0h0.85M447.1 238.7h0.85M427.2 260.0h0.85M392.2 286.5h0.85M426.2 260.9h0.85M439.9 259.3h0.85M442.1 228.3h0.85M428.4 263.5h0.85M389.5 282.8h0.85M443.9 256.9h0.85M430.3 262.9h0.85M442.0 257.5h0.85M415.1 271.5h0.85M445.4 250.5h0.85M440.3 256.5h0.85M404.1 270.0h0.85M390.5 288.3h0.85M394.5 285.5h0.85M405.2 278.2h0.85M396.2 283.1h0.85M408.8 271.9h0.85M405.8 277.5h0.85M432.5 252.0h0.85M425.4 260.1h0.85M391.8 278.4h0.85M428.8 264.9h0.85M436.6 242.1h0.85M413.4 271.3h0.85M381.4 290.0h0.85M439.7 256.0h0.85M434.1 261.2h0.85M383.6 293.0h0.85M399.9 278.2h0.85M437.1 251.4h0.85M427.4 247.0h0.85M389.8 286.7h0.85M404.9 271.8h0.85M382.1 290.7h0.85M447.2 250.1h0.85M438.9 248.6h0.85M397.8 283.3h0.85M410.8 273.0h0.85M435.9 260.9h0.85M419.5 264.4h0.85M386.3 291.0h0.85M438.7 258.9h0.85M433.6 259.8h0.85M380.2 296.2h0.85M444.6 257.7h0.85M415.3 270.3h0.85M423.5 267.6h0.85M430.8 254.0h0.85M446.9 239.7h0.85M417.0 257.8h0.85M398.0 283.4h0.85M409.8 275.6h0.85M445.8 255.6h0.85M427.2 265.3h0.85M420.6 254.1h0.85M420.9 269.6h0.85M416.2 272.4h0.85M450.3 250.3h0.85M451.6 254.2h0.85M404.9 272.4h0.85M379.0 297.2h0.85M391.1 287.7h0.85M398.1 282.8h0.85M410.3 267.8h0.85M430.7 253.3h0.85M429.9 256.9h0.85M415.4 263.3h0.85M449.7 253.9h0.85M386.9 288.9h0.85M410.4 272.2h0.85M440.8 251.0h0.85M430.9 263.1h0.85M420.5 255.8h0.85M431.9 256.7h0.85M379.3 296.3h0.85M433.2 255.6h0.85M418.2 270.5h0.85M443.9 257.3h0.85M392.3 287.0h0.85M409.3 274.4h0.85M453.4 252.1h0.85M402.8 278.9h0.85M431.2 261.5h0.85M449.3 252.8h0.85M420.2 263.2h0.85M418.1 271.5h0.85M418.5 265.8h0.85M398.1 269.9h0.85M418.1 266.6h0.85M433.8 258.7h0.85M416.9 270.4h0.85M403.5 276.5h0.85M409.1 268.2h0.85M385.8 291.7h0.85M379.0 297.5h0.85M450.1 255.4h0.85M407.7 269.9h0.85M434.3 257.5h0.85M429.9 262.0h0.85M399.6 282.3h0.85M402.2 271.2h0.85M428.5 253.2h0.85M416.8 252.7h0.85M428.9 261.4h0.85M423.0 261.8h0.85M414.9 266.5h0.85M427.2 262.4h0.85M413.4 259.3h0.85M383.4 292.4h0.85M419.3 260.1h0.85M451.5 250.3h0.85M435.7 239.8h0.85M399.2 280.4h0.85M417.6 260.0h0.85M386.5 287.6h0.85M430.6 252.1h0.85M407.7 272.4h0.85M423.7 263.8h0.85M453.4 255.1h0.85M425.5 265.2h0.85M440.2 258.2h0.85M379.0 295.3h0.85M403.1 271.5h0.85M423.3 267.4h0.85M393.2 286.6h0.85M420.7 266.9h0.85M404.9 279.9h0.85M414.7 268.2h0.85M385.2 290.8h0.85M433.8 261.8h0.85M398.5 281.8h0.85M404.1 276.1h0.85M391.1 285.7h0.85M397.9 277.5h0.85M390.0 286.8h0.85M454.8 254.6h0.85M440.9 256.7h0.85M436.5 259.6h0.85M385.3 292.0h0.85M398.1 278.1h0.85M449.3 250.0h0.85M447.4 232.0h0.85M392.3 283.6h0.85M424.2 258.5h0.85M430.3 262.8h0.85M410.6 262.8h0.85M404.1 263.5h0.85M398.3 283.3h0.85M433.3 250.5h0.85M403.6 280.3h0.85M434.1 249.2h0.85M380.5 295.6h0.85M419.7 268.4h0.85M446.5 242.7h0.85M388.4 287.8h0.85M378.9 295.4h0.85M434.5 259.9h0.85M393.3 276.9h0.85M422.0 263.1h0.85M379.3 296.9h0.85M416.7 264.6h0.85M410.4 257.0h0.85M380.1 294.0h0.85M401.2 281.6h0.85M413.6 269.3h0.85M418.3 266.1h0.85M403.2 278.1h0.85M429.0 251.8h0.85M436.2 241.0h0.85M386.9 285.9h0.85M448.8 241.0h0.85M406.2 277.5h0.85M425.1 267.0h0.85M449.3 254.7h0.85M431.5 260.0h0.85M411.4 267.9h0.85M436.7 257.8h0.85M403.8 276.0h0.85M380.9 295.4h0.85M430.5 244.5h0.85M408.6 277.1h0.85M444.0 249.2h0.85M381.0 293.1h0.85M433.9 254.7h0.85M413.2 266.3h0.85M381.4 295.2h0.85M409.7 275.2h0.85M440.8 239.4h0.85M446.8 256.9h0.85M427.5 265.3h0.85M433.2 250.9h0.85M446.7 251.1h0.85M450.7 255.2h0.85M418.2 269.7h0.85M381.3 293.8h0.85M429.0 263.0h0.85M382.4 293.8h0.85M383.7 291.4h0.85M417.3 265.7h0.85M425.5 266.6h0.85M386.0 288.4h0.85M428.3 249.9h0.85M435.6 260.0h0.85M449.6 253.7h0.85M413.2 273.4h0.85M452.9 255.5h0.85M394.5 285.4h0.85M422.5 266.6h0.85M396.8 284.5h0.85M406.7 276.2h0.85M398.0 283.8h0.85M454.6 255.4h0.85M451.6 245.3h0.85M422.7 264.1h0.85M384.6 287.0h0.85M395.3 284.7h0.85M391.5 282.2h0.85M401.2 279.9h0.85M412.8 269.3h0.85M408.7 276.4h0.85M413.1 267.9h0.85M440.3 255.1h0.85M411.4 274.0h0.85M418.6 264.0h0.85M415.5 271.9h0.85M398.3 281.0h0.85M424.1 254.3h0.85M391.7 287.1h0.85M387.0 288.8h0.85M423.1 266.4h0.85M432.1 254.2h0.85M386.8 289.6h0.85M417.1 264.1h0.85M387.8 289.9h0.85M404.8 278.9h0.85M429.1 248.3h0.85M429.8 259.4h0.85M411.0 257.3h0.85M442.5 254.1h0.85M444.5 256.6h0.85M394.5 285.1h0.85M450.8 247.5h0.85M397.3 281.4h0.85M449.0 256.1h0.85M424.8 266.0h0.85M451.1 255.8h0.85M404.3 276.9h0.85M443.2 254.0h0.85M404.9 273.5h0.85M432.2 262.9h0.85M435.8 257.3h0.85M442.1 249.3h0.85M426.9 259.5h0.85M412.1 274.6h0.85M378.7 297.1h0.85M434.1 250.1h0.85M422.8 266.6h0.85M387.2 290.2h0.85M432.1 262.8h0.85M408.0 276.8h0.85M429.1 254.8h0.85M413.4 273.2h0.85M440.0 253.9h0.85M434.5 258.0h0.85M446.6 256.8h0.85M446.5 256.7h0.85M378.8 297.4h0.85M425.7 265.6h0.85M454.1 255.1h0.85M380.4 293.3h0.85M437.1 233.7h0.85M399.9 280.9h0.85M421.6 224.0h0.85M384.9 290.9h0.85M428.6 254.6h0.85M444.2 247.3h0.85M436.1 259.1h0.85M433.2 260.4h0.85M446.9 256.8h0.85M422.2 247.2h0.85M395.5 278.7h0.85M419.2 262.0h0.85M441.6 247.2h0.85M402.6 279.0h0.85M410.5 276.4h0.85M441.4 247.3h0.85M383.1 292.1h0.85M382.7 292.8h0.85M405.2 277.7h0.85M443.9 257.6h0.85M387.6 289.4h0.85M420.8 255.3h0.85M430.4 252.1h0.85M382.7 293.2h0.85M443.5 255.3h0.85M439.0 254.0h0.85M380.7 295.5h0.85M414.5 270.0h0.85M410.8 274.2h0.85M435.8 259.7h0.85M380.8 295.8h0.85M405.2 278.0h0.85M382.5 293.8h0.85M418.1 269.8h0.85M384.2 292.8h0.85M440.4 257.4h0.85M403.7 277.3h0.85M378.9 297.1h0.85M401.5 280.9h0.85M419.8 267.0h0.85M394.6 277.6h0.85M389.3 288.9h0.85M438.1 258.7h0.85M422.4 260.3h0.85M381.1 295.3h0.85M431.7 255.8h0.85M385.0 291.0h0.85M439.6 259.3h0.85M442.2 234.6h0.85M399.9 280.3h0.85M379.4 295.8h0.85M420.1 269.3h0.85M421.7 263.0h0.85M403.6 276.1h0.85M408.8 251.7h0.85M380.7 295.9h0.85M451.5 255.8h0.85M386.1 284.4h0.85M413.3 273.7h0.85M398.0 280.5h0.85M426.0 266.2h0.85M395.9 283.1h0.85M382.9 293.7h0.85M417.6 266.5h0.85M397.9 282.1h0.85M428.9 255.6h0.85M401.0 280.6h0.85M447.5 255.4h0.85M422.8 266.2h0.85M416.9 262.1h0.85M415.3 235.8h0.85M422.5 265.0h0.85M420.5 269.6h0.85M419.0 268.5h0.85M393.3 281.9h0.85M438.0 257.2h0.85M408.0 272.8h0.85M396.9 282.7h0.85M425.5 260.1h0.85M427.5 265.7h0.85M406.5 277.8h0.85M432.9 253.5h0.85M394.0 284.9h0.85M381.8 293.3h0.85M395.1 284.7h0.85M436.7 251.1h0.85M387.8 289.8h0.85M428.5 259.7h0.85M422.1 264.9h0.85M423.3 262.8h0.85M403.9 277.4h0.85M410.2 273.1h0.85M441.9 256.6h0.85M408.9 275.2h0.85M383.1 292.1h0.85M414.1 263.2h0.85M383.6 291.8h0.85M390.1 287.4h0.85M396.4 284.5h0.85M417.4 268.1h0.85M420.2 268.7h0.85M409.9 275.1h0.85M381.9 293.0h0.85M388.3 289.8h0.85M423.6 262.8h0.85M379.3 296.2h0.85M437.7 222.5h0.85M424.2 266.5h0.85M421.1 265.5h0.85M447.7 255.9h0.85M388.3 287.9h0.85M425.1 232.7h0.85M410.1 272.5h0.85M437.6 253.9h0.85M425.0 265.0h0.85M422.0 256.3h0.85M410.6 252.0h0.85M446.6 246.5h0.85M421.6 258.3h0.85M395.5 285.2h0.85M386.3 288.9h0.85M451.6 254.8h0.85M448.6 252.2h0.85M429.8 264.2h0.85M438.7 244.5h0.85M452.6 253.3h0.85M435.0 253.9h0.85M403.0 272.5h0.85M436.0 259.5h0.85M426.0 258.8h0.85M394.5 284.8h0.85M422.0 265.1h0.85M452.3 255.2h0.85M452.1 253.4h0.85M406.5 277.6h0.85M449.7 254.2h0.85M396.6 284.3h0.85M405.3 279.6h0.85M394.0 281.1h0.85M405.1 273.5h0.85M451.2 255.7h0.85M392.8 283.6h0.85M394.5 285.1h0.85M403.1 279.0h0.85M444.7 253.7h0.85M401.2 279.8h0.85M407.1 278.8h0.85M415.5 272.0h0.85M441.3 251.6h0.85M406.2 271.4h0.85M434.2 258.6h0.85M440.9 251.8h0.85M379.6 296.4h0.85M446.0 255.0h0.85M402.1 267.6h0.85M417.8 261.8h0.85M380.1 295.4h0.85M449.0 253.3h0.85M385.1 290.4h0.85M450.8 252.7h0.85M417.8 256.6h0.85M433.6 258.0h0.85M430.0 253.3h0.85M380.8 292.6h0.85M430.8 262.5h0.85M395.4 284.5h0.85M385.3 289.9h0.85M449.0 255.4h0.85M396.6 283.1h0.85M445.3 251.4h0.85M396.2 281.0h0.85M434.5 261.1h0.85M439.4 255.8h0.85M405.5 271.0h0.85M414.5 268.1h0.85M446.9 254.7h0.85M394.7 271.2h0.85M381.4 295.3h0.85M438.8 242.3h0.85M448.4 254.9h0.85M408.2 270.8h0.85M393.7 286.3h0.85M395.7 284.0h0.85M417.8 266.9h0.85M452.9 251.8h0.85M439.5 258.1h0.85M440.3 257.3h0.85M407.7 257.7h0.85M401.5 279.3h0.85M430.6 229.4h0.85M450.2 256.3h0.85M429.4 261.1h0.85M454.0 252.9h0.85M412.9 260.8h0.85M404.1 271.6h0.85M383.2 292.8h0.85M398.3 277.2h0.85M434.3 254.6h0.85M437.8 249.6h0.85M396.1 284.8h0.85M405.2 276.4h0.85M387.0 290.1h0.85M411.9 273.3h0.85M408.4 276.1h0.85M450.0 248.4h0.85M439.7 243.5h0.85M448.8 255.7h0.85M388.4 283.6h0.85M402.6 272.2h0.85M444.9 247.3h0.85M396.8 284.2h0.85M404.9 273.6h0.85M386.4 291.0h0.85M380.0 295.7h0.85M425.5 265.2h0.85M407.5 270.6h0.85M405.1 277.6h0.85M409.5 273.1h0.85M438.9 260.1h0.85M385.9 291.2h0.85M381.1 295.3h0.85M384.7 289.4h0.85M383.3 293.1h0.85M429.7 254.4h0.85M417.6 270.1h0.85M385.3 291.7h0.85M405.9 277.4h0.85M384.3 292.4h0.85M420.3 266.1h0.85M436.4 259.3h0.85M389.7 287.2h0.85M445.3 238.9h0.85M440.1 255.5h0.85M455.3 254.2h0.85M418.0 263.6h0.85M420.1 246.4h0.85M380.0 295.1h0.85M448.2 253.7h0.85M439.5 258.0h0.85M427.5 257.8h0.85M437.7 254.4h0.85M395.7 285.0h0.85M440.4 242.2h0.85M432.7 256.7h0.85M394.6 282.5h0.85M436.3 251.6h0.85M420.8 258.7h0.85M433.6 257.6h0.85M390.2 286.0h0.85M443.2 256.6h0.85M407.8 263.8h0.85M443.8 249.0h0.85M455.0 252.3h0.85M381.7 294.6h0.85M428.7 261.0h0.85M380.3 295.3h0.85M402.7 275.1h0.85M455.1 250.1h0.85M429.5 264.6h0.85M434.5 253.0h0.85M414.4 268.4h0.85M405.7 271.2h0.85M388.2 286.4h0.85M427.8 253.6h0.85M453.8 255.2h0.85M415.4 272.3h0.85M415.1 268.0h0.85M437.0 251.9h0.85M384.6 292.3h0.85M428.4 265.1h0.85M449.5 254.5h0.85M388.7 288.4h0.85M454.2 252.7h0.85M440.9 231.8h0.85M448.9 254.5h0.85M387.2 288.9h0.85M418.1 271.2h0.85M437.0 241.7h0.85M439.0 256.0h0.85M396.2 281.7h0.85M453.9 252.9h0.85M387.9 287.8h0.85M433.0 254.3h0.85M449.8 254.2h0.85M442.6 254.2h0.85M447.6 254.8h0.85M413.7 263.0h0.85M447.1 251.2h0.85M448.2 253.7h0.85M425.5 261.8h0.85M428.8 265.0h0.85M384.0 291.2h0.85M400.9 280.5h0.85M455.0 255.5h0.85M430.2 259.2h0.85M451.5 252.7h0.85M440.5 256.0h0.85M430.3 263.6h0.85M408.0 272.0h0.85M421.8 265.7h0.85M399.1 282.5h0.85M395.5 281.8h0.85M419.1 251.9h0.85M417.7 270.2h0.85M438.5 259.9h0.85M434.1 245.7h0.85M407.7 276.6h0.85M398.4 269.8h0.85M429.8 257.2h0.85M394.3 281.4h0.85M402.4 281.3h0.85M418.0 268.8h0.85M437.5 258.6h0.85M410.0 275.6h0.85M406.3 278.7h0.85M432.1 255.0h0.85M434.5 259.9h0.85M424.2 266.8h0.85M438.3 256.2h0.85M412.3 262.2h0.85M451.3 250.9h0.85M428.0 263.7h0.85M398.6 277.2h0.85M396.8 284.4h0.85M433.4 259.3h0.85M383.1 290.0h0.85M420.0 269.4h0.85M431.4 257.6h0.85M411.6 269.3h0.85M450.0 250.2h0.85M443.5 249.6h0.85M421.4 263.6h0.85M416.5 271.7h0.85M429.1 263.4h0.85M434.3 254.4h0.85M444.2 250.3h0.85M403.5 272.6h0.85M406.2 278.3h0.85M421.9 267.8h0.85M435.5 258.9h0.85M427.3 243.7h0.85M453.3 255.7h0.85M418.7 267.4h0.85M412.0 274.7h0.85M430.9 262.5h0.85M455.1 254.5h0.85M430.8 246.9h0.85M422.6 265.3h0.85M423.6 258.9h0.85M381.4 294.8h0.85M381.6 295.0h0.85M421.6 269.0h0.85M396.6 283.8h0.85M437.0 240.1h0.85M422.4 253.7h0.85M440.6 256.6h0.85M436.2 260.0h0.85M415.2 269.8h0.85M441.8 255.8h0.85M404.9 277.9h0.85M442.7 253.7h0.85M422.0 249.2h0.85M449.0 246.9h0.85M422.4 268.8h0.85M404.1 265.9h0.85M445.9 254.4h0.85M438.3 254.0h0.85M442.7 250.1h0.85M422.4 259.5h0.85M445.1 247.9h0.85M392.9 283.9h0.85M416.4 269.9h0.85M387.6 289.7h0.85M435.6 260.0h0.85M399.5 277.7h0.85M412.1 268.7h0.85M413.2 274.0h0.85M408.7 276.0h0.85M412.7 270.0h0.85M424.9 265.8h0.85M401.8 279.6h0.85M406.4 269.0h0.85M390.3 286.5h0.85M392.9 285.2h0.85M388.0 289.6h0.85M406.4 276.0h0.85M388.2 288.2h0.85M394.4 284.8h0.85M449.6 252.8h0.85M425.1 262.8h0.85M432.6 250.1h0.85M442.4 252.0h0.85M391.0 287.9h0.85M405.3 274.6h0.85M414.1 253.5h0.85M446.9 255.2h0.85M428.4 264.1h0.85M439.2 258.9h0.85M421.1 266.0h0.85M404.2 270.6h0.85M420.1 217.8h0.85M399.5 280.7h0.85M436.3 251.1h0.85M428.7 252.9h0.85M402.8 275.0h0.85M427.7 260.8h0.85M393.4 285.7h0.85M441.3 251.6h0.85M391.3 284.2h0.85M418.4 271.4h0.85M409.9 262.4h0.85M385.5 290.4h0.85M418.2 264.6h0.85M379.8 296.5h0.85M380.8 295.8h0.85M400.1 281.0h0.85M447.6 241.6h0.85M380.9 295.7h0.85M391.1 287.0h0.85M398.7 280.8h0.85M431.4 262.8h0.85M425.9 258.8h0.85M448.2 249.5h0.85M415.0 271.0h0.85M409.4 276.5h0.85M450.1 250.1h0.85M412.0 270.4h0.85M394.7 285.0h0.85M391.6 285.3h0.85M392.7 283.1h0.85M420.7 268.3h0.85M408.8 268.1h0.85M382.4 294.1h0.85M409.8 272.8h0.85M381.5 292.1h0.85M433.5 257.5h0.85M429.3 258.9h0.85M436.0 239.5h0.85M447.9 256.2h0.85M431.3 260.8h0.85M384.7 288.1h0.85M388.2 289.7h0.85M440.1 258.6h0.85M411.9 262.8h0.85M449.4 255.7h0.85M383.5 293.3h0.85M445.0 255.5h0.85M382.1 293.6h0.85M437.7 256.7h0.85M400.9 280.9h0.85M430.5 262.5h0.85M380.3 295.0h0.85M393.7 285.6h0.85M431.6 261.8h0.85M399.6 282.5h0.85M386.1 291.2h0.85M411.1 265.6h0.85M433.4 256.8h0.85M415.0 268.7h0.85M383.1 291.9h0.85M454.0 254.4h0.85M381.1 294.8h0.85M424.1 266.8h0.85M414.0 270.3h0.85M423.3 265.2h0.85M442.5 236.9h0.85M415.7 271.9h0.85M384.8 292.1h0.85M431.6 263.4h0.85M397.6 282.8h0.85M414.0 274.2h0.85M421.6 282.0h0.85M431.5 276.3h0.85M394.3 295.0h0.85M423.2 281.9h0.85M419.2 283.5h0.85M441.9 269.2h0.85M442.8 267.3h0.85M439.1 273.8h0.85M413.8 286.9h0.85M391.1 295.6h0.85M389.0 296.8h0.85M428.9 277.1h0.85M411.3 287.2h0.85M410.2 288.0h0.85M449.3 261.2h0.85M443.5 269.8h0.85M430.5 275.8h0.85M400.5 292.1h0.85M414.8 287.1h0.85M388.2 296.4h0.85M420.5 282.1h0.85M389.4 295.7h0.85M430.7 275.8h0.85M398.5 292.5h0.85M385.9 296.7h0.85M420.2 282.2h0.85M434.4 273.4h0.85M436.6 272.9h0.85M451.0 261.7h0.85M391.0 297.3h0.85M449.4 261.2h0.85M420.3 282.4h0.85M397.6 293.0h0.85M395.0 293.9h0.85M449.7 261.5h0.85M415.3 285.3h0.85M437.0 271.5h0.85M397.8 293.4h0.85M448.6 261.7h0.85M419.7 283.4h0.85M444.3 266.0h0.85M417.7 284.6h0.85M422.3 280.9h0.85M449.3 262.8h0.85M399.7 291.7h0.85M435.0 273.3h0.85M427.6 279.1h0.85M421.0 281.8h0.85M422.1 283.4h0.85M452.3 258.3h0.85M386.8 296.6h0.85M389.1 295.7h0.85M400.6 291.6h0.85M420.7 281.8h0.85M383.9 298.1h0.85M449.5 261.9h0.85M399.8 291.6h0.85M433.8 273.9h0.85M388.5 296.1h0.85M409.0 291.5h0.85M426.9 277.9h0.85M387.2 296.6h0.85M397.4 292.5h0.85M407.3 289.2h0.85M432.3 274.9h0.85M417.8 284.1h0.85M445.1 265.2h0.85M383.5 298.4h0.85M409.7 290.2h0.85M445.3 265.3h0.85M426.0 279.9h0.85M394.8 294.5h0.85M438.4 271.7h0.85M408.1 288.8h0.85M441.2 268.1h0.85M408.5 289.9h0.85M434.2 274.9h0.85M385.2 297.2h0.85M432.3 276.4h0.85M437.2 271.7h0.85M450.2 260.1h0.85M418.7 283.8h0.85M381.1 298.3h0.85M404.6 290.5h0.85M391.4 296.0h0.85M383.3 297.3h0.85M381.3 297.9h0.85M444.5 265.8h0.85M452.5 258.6h0.85M392.0 295.3h0.85M413.6 287.6h0.85M420.7 282.4h0.85M449.4 260.9h0.85M451.1 264.3h0.85M429.0 277.2h0.85M382.6 298.4h0.85M383.0 300.2h0.85M454.2 257.8h0.85M452.7 260.4h0.85M399.4 292.0h0.85M399.4 293.0h0.85M405.8 290.1h0.85M397.0 294.3h0.85M445.2 266.4h0.85M392.1 295.1h0.85M383.2 297.7h0.85M441.9 268.1h0.85M438.7 273.5h0.85M395.3 293.9h0.85M422.8 281.3h0.85M382.9 298.0h0.85M396.2 293.7h0.85M396.0 293.6h0.85M419.7 282.7h0.85M410.5 287.9h0.85M408.5 290.5h0.85M412.2 288.8h0.85M388.9 296.6h0.85M405.8 289.5h0.85M436.9 271.7h0.85M414.6 287.1h0.85M415.6 286.3h0.85M395.5 294.0h0.85M391.0 295.3h0.85M401.8 290.9h0.85M437.7 270.9h0.85M412.9 286.5h0.85M414.4 285.8h0.85M438.5 271.2h0.85M385.1 297.3h0.85M444.2 265.7h0.85M423.2 283.2h0.85M452.1 260.1h0.85M436.0 272.5h0.85M396.9 293.0h0.85M389.5 296.0h0.85M452.6 259.6h0.85M432.1 276.8h0.85M445.8 264.2h0.85M388.4 295.8h0.85M404.4 291.1h0.85M423.5 280.3h0.85M419.2 283.2h0.85M442.6 268.2h0.85M450.7 259.6h0.85M416.7 284.6h0.85M447.4 263.0h0.85M432.8 275.3h0.85M417.4 284.2h0.85M407.7 289.5h0.85M418.7 284.0h0.85M420.4 282.6h0.85M449.4 262.0h0.85M445.0 266.9h0.85M398.3 292.7h0.85M381.5 297.9h0.85M437.8 270.8h0.85M434.0 276.4h0.85M401.3 291.5h0.85M427.7 277.4h0.85M406.1 289.1h0.85M437.6 271.2h0.85M385.0 297.8h0.85M399.6 291.9h0.85M426.0 278.8h0.85M436.9 274.3h0.85M430.0 278.2h0.85M385.3 297.6h0.85M424.3 280.1h0.85M411.1 290.7h0.85M401.9 291.4h0.85M429.1 277.9h0.85M439.6 269.4h0.85M450.6 260.9h0.85M450.7 259.6h0.85M451.0 260.2h0.85M411.9 290.3h0.85M411.4 288.0h0.85M423.7 280.6h0.85M418.6 271.5h0.85M418.9 284.5h0.85M404.0 291.0h0.85M391.3 287.9h0.85M390.6 295.9h0.85M391.5 296.3h0.85M393.9 295.0h0.85M451.0 255.8h0.85M454.2 254.0h0.85M444.5 260.7h0.85M381.7 298.9h0.85M429.3 264.0h0.85M392.1 294.0h0.85M407.9 278.8h0.85M389.2 296.9h0.85M447.7 262.6h0.85M420.0 271.2h0.85M413.1 273.3h0.85M438.6 271.2h0.85M451.2 259.3h0.85M415.7 286.0h0.85M380.9 297.1h0.85M446.2 256.7h0.85M401.2 283.1h0.85M407.6 279.4h0.85M389.9 295.2h0.85M382.6 296.9h0.85M395.9 284.5h0.85M434.3 260.9h0.85M436.0 260.5h0.85M426.9 265.3h0.85M439.6 259.1h0.85M450.4 259.9h0.85M418.5 270.6h0.85M433.6 261.7h0.85M409.9 276.3h0.85M419.7 283.6h0.85M432.9 274.9h0.85M439.8 260.9h0.85M420.2 269.9h0.85M394.7 294.5h0.85M445.7 258.6h0.85M431.1 276.1h0.85M389.0 287.8h0.85M390.8 289.1h0.85M448.2 262.2h0.85M422.7 269.0h0.85M386.3 297.3h0.85M447.1 255.7h0.85M443.6 258.0h0.85M438.2 260.6h0.85M398.2 293.7h0.85M399.2 283.4h0.85M447.2 262.9h0.85M431.5 275.4h0.85M388.3 296.6h0.85M390.3 289.9h0.85M401.6 283.2h0.85M400.7 283.3h0.85M415.0 272.9h0.85M401.8 280.8h0.85M385.2 292.6h0.85M387.1 295.8h0.85M394.5 284.3h0.85M411.1 276.6h0.85M396.1 293.5h0.85M444.5 266.0h0.85M406.7 280.1h0.85M421.3 269.2h0.85M413.1 274.3h0.85M416.3 284.6h0.85M423.8 268.3h0.85M390.6 286.5h0.85M393.6 295.1h0.85M444.5 258.5h0.85M387.8 290.8h0.85M396.0 283.5h0.85M396.4 282.9h0.85M411.7 274.8h0.85M425.5 277.2h0.85M450.8 254.8h0.85M385.4 291.9h0.85M409.9 288.8h0.85M395.7 285.8h0.85M408.2 276.9h0.85M410.4 275.8h0.85M440.1 259.3h0.85M429.1 264.4h0.85M454.5 254.5h0.85M416.4 273.3h0.85M395.6 284.9h0.85M429.1 264.5h0.85M455.1 255.8h0.85M396.2 293.9h0.85M430.6 262.8h0.85M391.3 286.1h0.85M381.6 297.6h0.85M397.6 293.0h0.85M392.4 286.0h0.85M425.6 266.7h0.85M438.9 271.9h0.85M396.8 284.2h0.85M416.7 273.2h0.85M444.7 257.5h0.85M381.0 295.7h0.85M382.4 291.7h0.85M451.0 254.9h0.85M455.0 255.0h0.85M395.3 292.7h0.85M452.0 258.7h0.85M441.3 267.8h0.85M408.2 275.0h0.85M415.8 273.3h0.85M443.7 259.5h0.85M401.2 291.1h0.85M433.1 274.2h0.85M437.1 272.6h0.85M384.8 294.5h0.85M436.3 260.8h0.85M403.7 280.1h0.85M408.8 288.6h0.85M424.7 266.2h0.85M443.6 257.7h0.85M419.8 283.2h0.85M403.0 280.9h0.85M445.1 258.6h0.85M392.8 285.7h0.85M409.5 288.4h0.85M423.5 281.4h0.85M401.0 291.9h0.85M400.4 282.0h0.85M393.4 286.1h0.85M409.8 288.1h0.85M416.3 284.2h0.85M442.4 256.8h0.85M423.4 268.2h0.85M406.7 280.2h0.85M428.0 276.8h0.85M452.4 255.7h0.85M447.8 256.4h0.85M405.0 280.0h0.85M389.4 288.4h0.85M446.3 258.2h0.85M427.1 266.3h0.85M428.6 267.0h0.85M382.4 297.7h0.85M403.0 290.9h0.85M446.5 263.7h0.85M392.2 286.6h0.85M404.5 280.0h0.85M434.8 272.5h0.85M429.3 276.9h0.85M427.3 263.5h0.85M423.9 280.5h0.85M444.5 258.2h0.85M410.4 287.8h0.85M389.6 288.5h0.85M451.6 258.0h0.85M404.0 289.6h0.85M415.2 285.8h0.85M417.7 270.7h0.85M431.9 262.7h0.85M430.9 263.1h0.85M426.6 266.3h0.85M416.4 286.0h0.85M449.4 258.7h0.85M391.6 295.1h0.85M400.5 291.5h0.85M388.5 290.1h0.85M421.9 270.0h0.85M379.3 295.5h0.85M424.8 267.2h0.85M454.0 258.1h0.85M444.7 257.3h0.85M437.2 273.3h0.85M418.7 269.4h0.85M427.6 277.5h0.85M406.4 276.8h0.85M442.0 258.5h0.85M445.3 255.1h0.85M407.1 289.3h0.85M448.3 255.9h0.85M433.1 264.4h0.85M450.4 260.1h0.85M386.6 297.1h0.85M417.2 283.1h0.85M434.6 272.6h0.85M391.8 287.9h0.85M409.6 276.2h0.85M444.0 259.2h0.85M449.0 256.6h0.85M387.7 296.9h0.85M451.9 254.4h0.85M455.4 255.2h0.85M440.8 268.1h0.85M422.5 269.6h0.85M423.5 267.9h0.85M453.4 257.6h0.85M403.0 279.9h0.85M454.4 255.3h0.85M423.6 280.1h0.85M379.4 297.7h0.85M410.0 276.0h0.85M404.5 280.0h0.85M427.0 266.3h0.85M452.8 256.4h0.85M387.7 292.4h0.85M408.7 289.3h0.85M431.9 263.0h0.85M451.0 255.9h0.85M448.4 257.0h0.85M452.4 258.7h0.85M397.2 294.0h0.85M414.3 273.5h0.85M414.8 286.4h0.85M429.7 275.6h0.85M391.8 287.3h0.85M398.7 282.0h0.85M433.6 274.6h0.85M447.4 255.5h0.85M434.8 273.5h0.85M386.4 290.5h0.85M433.3 261.0h0.85M379.3 298.0h0.85M388.0 296.6h0.85M395.6 285.2h0.85M390.7 287.6h0.85M393.0 286.5h0.85M420.4 281.3h0.85M455.2 255.2h0.85M401.4 281.9h0.85M423.1 280.4h0.85M386.4 288.8h0.85M411.9 287.1h0.85M407.3 277.4h0.85M436.9 271.2h0.85M442.4 259.2h0.85M434.6 273.6h0.85M404.3 280.1h0.85M428.2 276.9h0.85M395.1 286.2h0.85M446.4 263.5h0.85M434.8 274.1h0.85M447.9 255.9h0.85M429.9 276.1h0.85M408.6 277.5h0.85M427.3 263.8h0.85M430.1 264.6h0.85M451.0 255.1h0.85M462.0 251.0h0.85M466.0 249.5h0.85M488.0 252.0h0.85M459.0 254.0h0.85M470.0 253.0h0.85" stroke="#bdbdbd" stroke-width="0.85" fill="none"/>
<circle cx="418.3" cy="235.6" r="1.45" fill="#de1a1d"/>
<circle cx="441.5" cy="229.3" r="1.45" fill="#de1a1d"/>
<circle cx="432.4" cy="246.7" r="1.45" fill="#de1a1d"/>
<circle cx="433.1" cy="251.9" r="1.45" fill="#de1a1d"/>
<circle cx="420.4" cy="259.8" r="1.45" fill="#de1a1d"/>
<circle cx="470.2" cy="247.3" r="1.45" fill="#de1a1d"/>
<rect x="374.5" y="198.5" width="119.2" height="104" fill="none" stroke="#111" stroke-width="1.4"/>
<line x1="371.2" y1="298.5" x2="374.5" y2="298.5" stroke="#111" stroke-width="1.1"/>
<text x="367.6" y="301.1" font-size="8.2" text-anchor="end" fill="#1a1a1a" stroke="#1a1a1a" stroke-width="0.18">0</text>
<line x1="371.2" y1="266.17" x2="374.5" y2="266.17" stroke="#111" stroke-width="1.1"/>
<text x="367.6" y="268.77" font-size="8.2" text-anchor="end" fill="#1a1a1a" stroke="#1a1a1a" stroke-width="0.18">5</text>
<line x1="371.2" y1="233.83" x2="374.5" y2="233.83" stroke="#111" stroke-width="1.1"/>
<text x="367.6" y="236.43" font-size="8.2" text-anchor="end" fill="#1a1a1a" stroke="#1a1a1a" stroke-width="0.18">10</text>
<line x1="371.2" y1="201.5" x2="374.5" y2="201.5" stroke="#111" stroke-width="1.1"/>
<text x="367.6" y="204.1" font-size="8.2" text-anchor="end" fill="#1a1a1a" stroke="#1a1a1a" stroke-width="0.18">15</text>
<line x1="378.8" y1="302.5" x2="378.8" y2="305.2" stroke="#111" stroke-width="1.1"/>
<text x="378.8" y="315.4" font-size="8.2" text-anchor="middle" fill="#1a1a1a" stroke="#1a1a1a" stroke-width="0.18">0</text>
<line x1="401.72" y1="302.5" x2="401.72" y2="305.2" stroke="#111" stroke-width="1.1"/>
<text x="401.72" y="315.4" font-size="8.2" text-anchor="middle" fill="#1a1a1a" stroke="#1a1a1a" stroke-width="0.18">2</text>
<line x1="424.64" y1="302.5" x2="424.64" y2="305.2" stroke="#111" stroke-width="1.1"/>
<text x="424.64" y="315.4" font-size="8.2" text-anchor="middle" fill="#1a1a1a" stroke="#1a1a1a" stroke-width="0.18">4</text>
<line x1="447.56" y1="302.5" x2="447.56" y2="305.2" stroke="#111" stroke-width="1.1"/>
<text x="447.56" y="315.4" font-size="8.2" text-anchor="middle" fill="#1a1a1a" stroke="#1a1a1a" stroke-width="0.18">6</text>
<line x1="470.48" y1="302.5" x2="470.48" y2="305.2" stroke="#111" stroke-width="1.1"/>
<text x="470.48" y="315.4" font-size="8.2" text-anchor="middle" fill="#1a1a1a" stroke="#1a1a1a" stroke-width="0.18">8</text>
<text x="341.8" y="250.3" font-size="9.8" text-anchor="middle" fill="#1a1a1a" font-weight="bold" textLength="103" lengthAdjust="spacingAndGlyphs" transform="rotate(-90 341.8 250.3)">Mean normalized counts per gene</text>
<text x="352.5" y="250.2" font-size="9.8" text-anchor="middle" fill="#1a1a1a" font-weight="bold" textLength="27" lengthAdjust="spacingAndGlyphs" transform="rotate(-90 352.5 250.2)">LAM-003</text>
<text x="434.2" y="329.8" font-size="9.8" text-anchor="middle" fill="#1a1a1a" font-weight="bold" textLength="103.8" lengthAdjust="spacingAndGlyphs">Mean normalized counts per gene</text>
<text x="434.1" y="341" font-size="9.8" text-anchor="middle" fill="#1a1a1a" font-weight="bold" textLength="46.5" lengthAdjust="spacingAndGlyphs">control (day 3)</text>
<text x="7.2" y="369.4" font-size="12.1" fill="#000" font-weight="bold" stroke="#000" stroke-width="0.6">D</text>
<line x1="67.5" y1="370.8" x2="67.5" y2="475.5" stroke="#111" stroke-width="1.4"/>
<line x1="66.85" y1="475.5" x2="173" y2="475.5" stroke="#111" stroke-width="1.4"/>
<line x1="64.2" y1="475.5" x2="67.5" y2="475.5" stroke="#111" stroke-width="1.1"/>
<text x="60.6" y="478.1" font-size="8.2" text-anchor="end" fill="#1a1a1a" stroke="#1a1a1a" stroke-width="0.18">0.0</text>
<line x1="67.5" y1="475.5" x2="67.5" y2="478.6" stroke="#111" stroke-width="1.1"/>
<text x="67.5" y="489.3" font-size="8.2" text-anchor="middle" fill="#1a1a1a" stroke="#1a1a1a" stroke-width="0.18">0.0</text>
<line x1="64.2" y1="456.5" x2="67.5" y2="456.5" stroke="#111" stroke-width="1.1"/>
<text x="60.6" y="459.1" font-size="8.2" text-anchor="end" fill="#1a1a1a" stroke="#1a1a1a" stroke-width="0.18">0.2</text>
<line x1="86.5" y1="475.5" x2="86.5" y2="478.6" stroke="#111" stroke-width="1.1"/>
<text x="86.5" y="489.3" font-size="8.2" text-anchor="middle" fill="#1a1a1a" stroke="#1a1a1a" stroke-width="0.18">0.2</text>
<line x1="64.2" y1="437.5" x2="67.5" y2="437.5" stroke="#111" stroke-width="1.1"/>
<text x="60.6" y="440.1" font-size="8.2" text-anchor="end" fill="#1a1a1a" stroke="#1a1a1a" stroke-width="0.18">0.4</text>
<line x1="105.5" y1="475.5" x2="105.5" y2="478.6" stroke="#111" stroke-width="1.1"/>
<text x="105.5" y="489.3" font-size="8.2" text-anchor="middle" fill="#1a1a1a" stroke="#1a1a1a" stroke-width="0.18">0.4</text>
<line x1="64.2" y1="418.5" x2="67.5" y2="418.5" stroke="#111" stroke-width="1.1"/>
<text x="60.6" y="421.1" font-size="8.2" text-anchor="end" fill="#1a1a1a" stroke="#1a1a1a" stroke-width="0.18">0.6</text>
<line x1="124.5" y1="475.5" x2="124.5" y2="478.6" stroke="#111" stroke-width="1.1"/>
<text x="124.5" y="489.3" font-size="8.2" text-anchor="middle" fill="#1a1a1a" stroke="#1a1a1a" stroke-width="0.18">0.6</text>
<line x1="64.2" y1="399.5" x2="67.5" y2="399.5" stroke="#111" stroke-width="1.1"/>
<text x="60.6" y="402.1" font-size="8.2" text-anchor="end" fill="#1a1a1a" stroke="#1a1a1a" stroke-width="0.18">0.8</text>
<line x1="143.5" y1="475.5" x2="143.5" y2="478.6" stroke="#111" stroke-width="1.1"/>
<text x="143.5" y="489.3" font-size="8.2" text-anchor="middle" fill="#1a1a1a" stroke="#1a1a1a" stroke-width="0.18">0.8</text>
<line x1="64.2" y1="380.5" x2="67.5" y2="380.5" stroke="#111" stroke-width="1.1"/>
<text x="60.6" y="383.1" font-size="8.2" text-anchor="end" fill="#1a1a1a" stroke="#1a1a1a" stroke-width="0.18">1.0</text>
<line x1="162.5" y1="475.5" x2="162.5" y2="478.6" stroke="#111" stroke-width="1.1"/>
<text x="162.5" y="489.3" font-size="8.2" text-anchor="middle" fill="#1a1a1a" stroke="#1a1a1a" stroke-width="0.18">1.0</text>
<line x1="67.5" y1="380.5" x2="162.5" y2="475.5" stroke="#111" stroke-width="1.3"/>
<circle cx="74.45" cy="400" r="3.3" fill="#62a7e0"/>
<polygon points="68.9,410.5 76.6,410.5 72.75,417.3" fill="#5a9e32"/>
<text x="43.8" y="423" font-size="9.8" text-anchor="middle" fill="#1a1a1a" font-weight="bold" textLength="30" lengthAdjust="spacingAndGlyphs" transform="rotate(-90 43.8 423)">EPZ-6438</text>
<text x="120.2" y="502.7" font-size="9.8" text-anchor="middle" fill="#1a1a1a" font-weight="bold" textLength="27.3" lengthAdjust="spacingAndGlyphs">LAM-003</text>
<circle cx="130.9" cy="374.7" r="3.3" fill="#62a7e0"/>
<polygon points="127,383.1 134.8,383.1 130.9,390" fill="#5a9e32"/>
<text x="138.3" y="377.4" font-size="7.6" fill="#1a1a1a" textLength="34.3" lengthAdjust="spacingAndGlyphs" stroke="#1a1a1a" stroke-width="0.18">MOLM-14</text>
<text x="138.3" y="389.2" font-size="7.6" fill="#1a1a1a" textLength="27.6" lengthAdjust="spacingAndGlyphs" stroke="#1a1a1a" stroke-width="0.18">MV-4-11</text>
<rect x="0.5" y="0.5" width="518.8" height="511.8" fill="none" stroke="#000" stroke-width="1.3"/>
</svg></body></html>
